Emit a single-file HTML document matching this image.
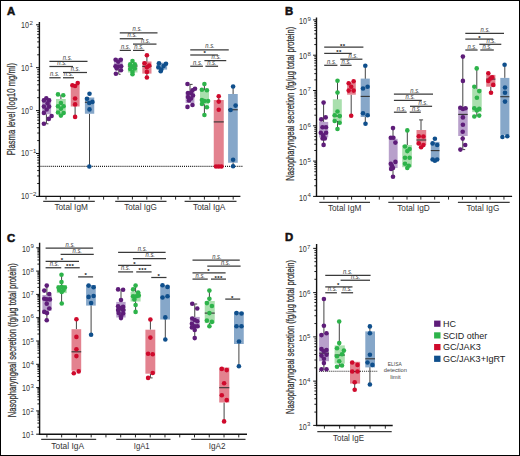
<!DOCTYPE html>
<html><head><meta charset="utf-8"><style>
html,body{margin:0;padding:0;background:#fff;}
svg{display:block;font-family:"Liberation Sans", sans-serif;}
</style></head><body>
<svg width="520" height="456" viewBox="0 0 520 456">
<rect x="0" y="0" width="520" height="456" fill="#fff"/>
<text x="7" y="15.3" font-size="11.3" text-anchor="start" fill="#111" font-weight="bold" stroke="#111" stroke-width="0.55">A</text>
<line x1="39.4" y1="22" x2="39.4" y2="197.0" stroke="#111" stroke-width="1.4"/>
<line x1="36.0" y1="196.4" x2="39.4" y2="196.4" stroke="#111" stroke-width="1.0"/>
<line x1="37.199999999999996" y1="183.4858131860152" x2="39.4" y2="183.4858131860152" stroke="#111" stroke-width="0.95"/>
<line x1="37.199999999999996" y1="175.9314981725265" x2="39.4" y2="175.9314981725265" stroke="#111" stroke-width="0.95"/>
<line x1="37.199999999999996" y1="170.5716263720304" x2="39.4" y2="170.5716263720304" stroke="#111" stroke-width="0.95"/>
<line x1="37.199999999999996" y1="166.4141868139848" x2="39.4" y2="166.4141868139848" stroke="#111" stroke-width="0.95"/>
<line x1="37.199999999999996" y1="163.0173113585417" x2="39.4" y2="163.0173113585417" stroke="#111" stroke-width="0.95"/>
<line x1="37.199999999999996" y1="160.1452940833884" x2="39.4" y2="160.1452940833884" stroke="#111" stroke-width="0.95"/>
<line x1="37.199999999999996" y1="157.65743955804564" x2="39.4" y2="157.65743955804564" stroke="#111" stroke-width="0.95"/>
<line x1="37.199999999999996" y1="155.46299634505297" x2="39.4" y2="155.46299634505297" stroke="#111" stroke-width="0.95"/>
<line x1="36.0" y1="153.5" x2="39.4" y2="153.5" stroke="#111" stroke-width="1.0"/>
<line x1="37.199999999999996" y1="140.5858131860152" x2="39.4" y2="140.5858131860152" stroke="#111" stroke-width="0.95"/>
<line x1="37.199999999999996" y1="133.03149817252648" x2="39.4" y2="133.03149817252648" stroke="#111" stroke-width="0.95"/>
<line x1="37.199999999999996" y1="127.67162637203042" x2="39.4" y2="127.67162637203042" stroke="#111" stroke-width="0.95"/>
<line x1="37.199999999999996" y1="123.51418681398481" x2="39.4" y2="123.51418681398481" stroke="#111" stroke-width="0.95"/>
<line x1="37.199999999999996" y1="120.1173113585417" x2="39.4" y2="120.1173113585417" stroke="#111" stroke-width="0.95"/>
<line x1="37.199999999999996" y1="117.24529408338839" x2="39.4" y2="117.24529408338839" stroke="#111" stroke-width="0.95"/>
<line x1="37.199999999999996" y1="114.75743955804563" x2="39.4" y2="114.75743955804563" stroke="#111" stroke-width="0.95"/>
<line x1="37.199999999999996" y1="112.56299634505298" x2="39.4" y2="112.56299634505298" stroke="#111" stroke-width="0.95"/>
<line x1="36.0" y1="110.60000000000001" x2="39.4" y2="110.60000000000001" stroke="#111" stroke-width="1.0"/>
<line x1="37.199999999999996" y1="97.68581318601521" x2="39.4" y2="97.68581318601521" stroke="#111" stroke-width="0.95"/>
<line x1="37.199999999999996" y1="90.13149817252648" x2="39.4" y2="90.13149817252648" stroke="#111" stroke-width="0.95"/>
<line x1="37.199999999999996" y1="84.77162637203041" x2="39.4" y2="84.77162637203041" stroke="#111" stroke-width="0.95"/>
<line x1="37.199999999999996" y1="80.6141868139848" x2="39.4" y2="80.6141868139848" stroke="#111" stroke-width="0.95"/>
<line x1="37.199999999999996" y1="77.21731135854169" x2="39.4" y2="77.21731135854169" stroke="#111" stroke-width="0.95"/>
<line x1="37.199999999999996" y1="74.34529408338838" x2="39.4" y2="74.34529408338838" stroke="#111" stroke-width="0.95"/>
<line x1="37.199999999999996" y1="71.85743955804563" x2="39.4" y2="71.85743955804563" stroke="#111" stroke-width="0.95"/>
<line x1="37.199999999999996" y1="69.66299634505297" x2="39.4" y2="69.66299634505297" stroke="#111" stroke-width="0.95"/>
<line x1="36.0" y1="67.70000000000002" x2="39.4" y2="67.70000000000002" stroke="#111" stroke-width="1.0"/>
<line x1="37.199999999999996" y1="54.78581318601522" x2="39.4" y2="54.78581318601522" stroke="#111" stroke-width="0.95"/>
<line x1="37.199999999999996" y1="47.23149817252647" x2="39.4" y2="47.23149817252647" stroke="#111" stroke-width="0.95"/>
<line x1="37.199999999999996" y1="41.87162637203042" x2="39.4" y2="41.87162637203042" stroke="#111" stroke-width="0.95"/>
<line x1="37.199999999999996" y1="37.71418681398481" x2="39.4" y2="37.71418681398481" stroke="#111" stroke-width="0.95"/>
<line x1="37.199999999999996" y1="34.3173113585417" x2="39.4" y2="34.3173113585417" stroke="#111" stroke-width="0.95"/>
<line x1="37.199999999999996" y1="31.445294083388376" x2="39.4" y2="31.445294083388376" stroke="#111" stroke-width="0.95"/>
<line x1="37.199999999999996" y1="28.95743955804562" x2="39.4" y2="28.95743955804562" stroke="#111" stroke-width="0.95"/>
<line x1="37.199999999999996" y1="26.762996345052983" x2="39.4" y2="26.762996345052983" stroke="#111" stroke-width="0.95"/>
<line x1="36.0" y1="24.80000000000001" x2="39.4" y2="24.80000000000001" stroke="#111" stroke-width="1.0"/>
<text x="21.1" y="27.7" font-size="9.3" text-anchor="start" fill="#333" font-weight="normal" textLength="8.0" lengthAdjust="spacingAndGlyphs">10</text>
<text x="29.4" y="24.5" font-size="6.1" text-anchor="start" fill="#333" font-weight="normal">2</text>
<text x="21.1" y="70.6" font-size="9.3" text-anchor="start" fill="#333" font-weight="normal" textLength="8.0" lengthAdjust="spacingAndGlyphs">10</text>
<text x="29.4" y="67.4" font-size="6.1" text-anchor="start" fill="#333" font-weight="normal">1</text>
<text x="21.1" y="113.5" font-size="9.3" text-anchor="start" fill="#333" font-weight="normal" textLength="8.0" lengthAdjust="spacingAndGlyphs">10</text>
<text x="29.4" y="110.3" font-size="6.1" text-anchor="start" fill="#333" font-weight="normal">0</text>
<text x="21.1" y="156.4" font-size="9.3" text-anchor="start" fill="#333" font-weight="normal" textLength="8.0" lengthAdjust="spacingAndGlyphs">10</text>
<text x="29.4" y="153.2" font-size="6.1" text-anchor="start" fill="#333" font-weight="normal">−1</text>
<text x="21.1" y="199.3" font-size="9.3" text-anchor="start" fill="#333" font-weight="normal" textLength="8.0" lengthAdjust="spacingAndGlyphs">10</text>
<text x="29.4" y="196.1" font-size="6.1" text-anchor="start" fill="#333" font-weight="normal">−2</text>
<text transform="translate(15.1,155.3) rotate(-90)" x="0" y="0" font-size="10.2" fill="#333" stroke="#333" stroke-width="0.25" textLength="92.4" lengthAdjust="spacingAndGlyphs">Plasma level (log10 mg/ml)</text>
<line x1="40.5" y1="166.4" x2="242.7" y2="166.4" stroke="#1a1a1a" stroke-width="1.1" stroke-dasharray="1 1.05"/>
<line x1="38.699999999999996" y1="196.4" x2="240.4" y2="196.4" stroke="#111" stroke-width="1.4"/>
<line x1="46.0" y1="196.4" x2="46.0" y2="199.6" stroke="#111" stroke-width="0.9"/>
<line x1="60.4" y1="196.4" x2="60.4" y2="199.6" stroke="#111" stroke-width="0.9"/>
<line x1="74.8" y1="196.4" x2="74.8" y2="199.6" stroke="#111" stroke-width="0.9"/>
<line x1="89.2" y1="196.4" x2="89.2" y2="199.6" stroke="#111" stroke-width="0.9"/>
<line x1="103.6" y1="196.4" x2="103.6" y2="199.6" stroke="#111" stroke-width="0.9"/>
<line x1="118.0" y1="196.4" x2="118.0" y2="199.6" stroke="#111" stroke-width="0.9"/>
<line x1="132.4" y1="196.4" x2="132.4" y2="199.6" stroke="#111" stroke-width="0.9"/>
<line x1="146.8" y1="196.4" x2="146.8" y2="199.6" stroke="#111" stroke-width="0.9"/>
<line x1="161.2" y1="196.4" x2="161.2" y2="199.6" stroke="#111" stroke-width="0.9"/>
<line x1="175.6" y1="196.4" x2="175.6" y2="199.6" stroke="#111" stroke-width="0.9"/>
<line x1="190.0" y1="196.4" x2="190.0" y2="199.6" stroke="#111" stroke-width="0.9"/>
<line x1="204.4" y1="196.4" x2="204.4" y2="199.6" stroke="#111" stroke-width="0.9"/>
<line x1="218.8" y1="196.4" x2="218.8" y2="199.6" stroke="#111" stroke-width="0.9"/>
<line x1="233.20000000000002" y1="196.4" x2="233.20000000000002" y2="199.6" stroke="#111" stroke-width="0.9"/>
<line x1="43.2" y1="201.4" x2="94.8" y2="201.4" stroke="#3a3a3a" stroke-width="1.2"/>
<line x1="115.2" y1="201.4" x2="166.5" y2="201.4" stroke="#3a3a3a" stroke-width="1.2"/>
<line x1="184.6" y1="201.4" x2="236.5" y2="201.4" stroke="#3a3a3a" stroke-width="1.2"/>
<text x="54.4" y="210.2" font-size="8.5" text-anchor="start" fill="#333" font-weight="normal" textLength="33.5" lengthAdjust="spacingAndGlyphs">Total IgM</text>
<text x="124.2" y="210.2" font-size="8.5" text-anchor="start" fill="#333" font-weight="normal" textLength="32.7" lengthAdjust="spacingAndGlyphs">Total IgG</text>
<text x="193" y="210.2" font-size="8.5" text-anchor="start" fill="#333" font-weight="normal" textLength="32.4" lengthAdjust="spacingAndGlyphs">Total IgA</text>
<line x1="46.4" y1="114.2" x2="46.4" y2="123.8" stroke="#444" stroke-width="1.0"/>
<rect x="42.2" y="98.5" width="8.90" height="15.70" fill="#b8a0cb"/>
<circle cx="46.3" cy="98.3" r="2.3" fill="#5e1d79"/>
<circle cx="43.9" cy="100.4" r="2.3" fill="#5e1d79"/>
<circle cx="49.1" cy="100.4" r="2.3" fill="#5e1d79"/>
<circle cx="47.5" cy="103.4" r="2.3" fill="#5e1d79"/>
<circle cx="43.9" cy="106.6" r="2.3" fill="#5e1d79"/>
<circle cx="49.1" cy="106.6" r="2.3" fill="#5e1d79"/>
<circle cx="46.7" cy="109.5" r="2.3" fill="#5e1d79"/>
<circle cx="43.9" cy="112.9" r="2.3" fill="#5e1d79"/>
<circle cx="51.6" cy="116" r="2.3" fill="#5e1d79"/>
<circle cx="48.8" cy="118.9" r="2.3" fill="#5e1d79"/>
<circle cx="43.9" cy="123.8" r="2.3" fill="#5e1d79"/>
<line x1="60.9" y1="95" x2="60.9" y2="99" stroke="#444" stroke-width="1.0"/>
<rect x="56" y="99" width="9.75" height="14.75" fill="#a9dfad"/>
<circle cx="58" cy="94.4" r="2.3" fill="#2db34a"/>
<circle cx="63.25" cy="95.25" r="2.3" fill="#2db34a"/>
<circle cx="60.9" cy="103" r="2.3" fill="#2db34a"/>
<circle cx="58" cy="106.25" r="2.3" fill="#2db34a"/>
<circle cx="63.6" cy="106.25" r="2.3" fill="#2db34a"/>
<circle cx="60.9" cy="108.75" r="2.3" fill="#2db34a"/>
<circle cx="58" cy="112.5" r="2.3" fill="#2db34a"/>
<circle cx="63.6" cy="113" r="2.3" fill="#2db34a"/>
<circle cx="60.9" cy="115.6" r="2.3" fill="#2db34a"/>
<line x1="75.1" y1="106.5" x2="75.1" y2="117" stroke="#444" stroke-width="1.0"/>
<rect x="70.75" y="85" width="8.85" height="21.50" fill="#e3828f"/>
<circle cx="72.4" cy="85.25" r="2.3" fill="#cf0a2c"/>
<circle cx="75.1" cy="86" r="2.3" fill="#cf0a2c"/>
<circle cx="77.75" cy="83.1" r="2.3" fill="#cf0a2c"/>
<circle cx="75.1" cy="98.5" r="2.3" fill="#cf0a2c"/>
<circle cx="75.1" cy="104.4" r="2.3" fill="#cf0a2c"/>
<circle cx="75.1" cy="116.9" r="2.3" fill="#cf0a2c"/>
<line x1="89.5" y1="113.75" x2="89.5" y2="166.5" stroke="#444" stroke-width="1.0"/>
<rect x="84.9" y="97.5" width="9.35" height="16.25" fill="#86a7c9"/>
<line x1="84.9" y1="102.25" x2="94.25" y2="102.25" stroke="#333" stroke-width="1.1"/>
<circle cx="89.5" cy="93.75" r="2.3" fill="#0f4f8c"/>
<circle cx="87" cy="98.75" r="2.3" fill="#0f4f8c"/>
<circle cx="89.25" cy="103" r="2.3" fill="#0f4f8c"/>
<circle cx="92.4" cy="101.9" r="2.3" fill="#0f4f8c"/>
<circle cx="89.5" cy="109.4" r="2.3" fill="#0f4f8c"/>
<circle cx="89.3" cy="166.5" r="2.3" fill="#0f4f8c"/>
<line x1="118.8" y1="68.5" x2="118.8" y2="74.3" stroke="#444" stroke-width="1.0"/>
<rect x="114.1" y="58" width="8.50" height="10.50" fill="#b8a0cb"/>
<circle cx="115.6" cy="59.7" r="2.3" fill="#5e1d79"/>
<circle cx="120.8" cy="59.7" r="2.3" fill="#5e1d79"/>
<circle cx="118.2" cy="61.8" r="2.3" fill="#5e1d79"/>
<circle cx="115.5" cy="66.3" r="2.3" fill="#5e1d79"/>
<circle cx="121.2" cy="66.3" r="2.3" fill="#5e1d79"/>
<circle cx="118.2" cy="66.5" r="2.3" fill="#5e1d79"/>
<circle cx="116.7" cy="68.5" r="2.3" fill="#5e1d79"/>
<circle cx="121" cy="70.3" r="2.3" fill="#5e1d79"/>
<circle cx="115.9" cy="73.8" r="2.3" fill="#5e1d79"/>
<rect x="127.9" y="63.8" width="9.60" height="8.70" fill="#a9dfad"/>
<line x1="127.9" y1="66" x2="137.5" y2="66" stroke="#333" stroke-width="1.1"/>
<circle cx="132.5" cy="61" r="2.3" fill="#2db34a"/>
<circle cx="130.2" cy="64.4" r="2.3" fill="#2db34a"/>
<circle cx="134.8" cy="64.4" r="2.3" fill="#2db34a"/>
<circle cx="132.5" cy="66.7" r="2.3" fill="#2db34a"/>
<circle cx="130.2" cy="69" r="2.3" fill="#2db34a"/>
<circle cx="134.8" cy="68.5" r="2.3" fill="#2db34a"/>
<circle cx="132.5" cy="71.9" r="2.3" fill="#2db34a"/>
<circle cx="132.5" cy="74.2" r="2.3" fill="#2db34a"/>
<line x1="146.9" y1="55.2" x2="146.9" y2="77.5" stroke="#444" stroke-width="1.0"/>
<rect x="142.3" y="61.5" width="9.20" height="12.10" fill="#e3828f"/>
<line x1="142.3" y1="66.4" x2="151.5" y2="66.4" stroke="#333" stroke-width="1.1"/>
<circle cx="146.9" cy="55.2" r="2.3" fill="#cf0a2c"/>
<circle cx="144.6" cy="63.3" r="2.3" fill="#cf0a2c"/>
<circle cx="149.2" cy="65.6" r="2.3" fill="#cf0a2c"/>
<circle cx="146.9" cy="67.3" r="2.3" fill="#cf0a2c"/>
<circle cx="146.9" cy="71.9" r="2.3" fill="#cf0a2c"/>
<circle cx="146.9" cy="77.5" r="2.3" fill="#cf0a2c"/>
<rect x="156.7" y="62.7" width="10.40" height="6.90" fill="#86a7c9"/>
<circle cx="159" cy="63.3" r="2.3" fill="#0f4f8c"/>
<circle cx="166" cy="63.8" r="2.3" fill="#0f4f8c"/>
<circle cx="163.6" cy="66.1" r="2.3" fill="#0f4f8c"/>
<circle cx="158.4" cy="67.3" r="2.3" fill="#0f4f8c"/>
<circle cx="161.3" cy="69.6" r="2.3" fill="#0f4f8c"/>
<circle cx="160.7" cy="71.3" r="2.3" fill="#0f4f8c"/>
<line x1="190" y1="84" x2="190" y2="92" stroke="#444" stroke-width="1.0"/>
<rect x="185.6" y="91.9" width="8.80" height="11.10" fill="#b8a0cb"/>
<circle cx="187.5" cy="84" r="2.3" fill="#5e1d79"/>
<circle cx="192.5" cy="90.25" r="2.3" fill="#5e1d79"/>
<circle cx="195" cy="88.75" r="2.3" fill="#5e1d79"/>
<circle cx="188" cy="93" r="2.3" fill="#5e1d79"/>
<circle cx="191" cy="93" r="2.3" fill="#5e1d79"/>
<circle cx="193" cy="95.5" r="2.3" fill="#5e1d79"/>
<circle cx="188" cy="97" r="2.3" fill="#5e1d79"/>
<circle cx="191" cy="98.5" r="2.3" fill="#5e1d79"/>
<circle cx="189" cy="100.5" r="2.3" fill="#5e1d79"/>
<circle cx="187.5" cy="106.9" r="2.3" fill="#5e1d79"/>
<circle cx="192.5" cy="105" r="2.3" fill="#5e1d79"/>
<line x1="204.4" y1="84" x2="204.4" y2="115" stroke="#444" stroke-width="1.0"/>
<rect x="200" y="90" width="9.00" height="14.40" fill="#a9dfad"/>
<circle cx="204.4" cy="84" r="2.3" fill="#2db34a"/>
<circle cx="201.9" cy="89.75" r="2.3" fill="#2db34a"/>
<circle cx="206.9" cy="90.25" r="2.3" fill="#2db34a"/>
<circle cx="201.9" cy="100" r="2.3" fill="#2db34a"/>
<circle cx="204.4" cy="101" r="2.3" fill="#2db34a"/>
<circle cx="208.1" cy="101" r="2.3" fill="#2db34a"/>
<circle cx="202" cy="104" r="2.3" fill="#2db34a"/>
<circle cx="206.9" cy="107.25" r="2.3" fill="#2db34a"/>
<circle cx="204.4" cy="115" r="2.3" fill="#2db34a"/>
<line x1="218.75" y1="96.25" x2="218.75" y2="100" stroke="#444" stroke-width="1.0"/>
<rect x="213.75" y="100" width="10.00" height="66.90" fill="#e3828f"/>
<line x1="213.75" y1="121.9" x2="223.75" y2="121.9" stroke="#333" stroke-width="1.1"/>
<circle cx="218.75" cy="96.25" r="2.3" fill="#cf0a2c"/>
<circle cx="218.75" cy="101.6" r="2.3" fill="#cf0a2c"/>
<circle cx="218.75" cy="109.75" r="2.3" fill="#cf0a2c"/>
<circle cx="216" cy="166.5" r="2.3" fill="#cf0a2c"/>
<circle cx="218.75" cy="166.5" r="2.3" fill="#cf0a2c"/>
<circle cx="221.5" cy="166.5" r="2.3" fill="#cf0a2c"/>
<line x1="233.1" y1="86.5" x2="233.1" y2="166.25" stroke="#444" stroke-width="1.0"/>
<rect x="228.1" y="94" width="9.65" height="68.75" fill="#86a7c9"/>
<line x1="228.1" y1="109.75" x2="237.75" y2="109.75" stroke="#333" stroke-width="1.1"/>
<circle cx="233.1" cy="86.5" r="2.3" fill="#0f4f8c"/>
<circle cx="235.6" cy="105.6" r="2.3" fill="#0f4f8c"/>
<circle cx="230.6" cy="110" r="2.3" fill="#0f4f8c"/>
<circle cx="233.1" cy="159.75" r="2.3" fill="#0f4f8c"/>
<circle cx="233.1" cy="166.25" r="2.3" fill="#0f4f8c"/>
<line x1="49.4" y1="61.25" x2="87.5" y2="61.25" stroke="#3a3a3a" stroke-width="1.25"/>
<text x="67.5" y="59.75" font-size="6.4" text-anchor="middle" fill="#3a3a3a" font-weight="normal" textLength="9.4" lengthAdjust="spacingAndGlyphs" font-style="italic">n.s.</text>
<line x1="49.4" y1="66.5" x2="73" y2="66.5" stroke="#3a3a3a" stroke-width="1.25"/>
<text x="62" y="65.0" font-size="6.4" text-anchor="middle" fill="#3a3a3a" font-weight="normal" textLength="9.4" lengthAdjust="spacingAndGlyphs" font-style="italic">n.s.</text>
<line x1="63" y1="72.5" x2="87" y2="72.5" stroke="#3a3a3a" stroke-width="1.25"/>
<text x="75.4" y="71.0" font-size="6.4" text-anchor="middle" fill="#3a3a3a" font-weight="normal" textLength="9.4" lengthAdjust="spacingAndGlyphs" font-style="italic">n.s.</text>
<line x1="49.4" y1="77.75" x2="60.6" y2="77.75" stroke="#3a3a3a" stroke-width="1.25"/>
<text x="54.75" y="76.25" font-size="6.4" text-anchor="middle" fill="#3a3a3a" font-weight="normal" textLength="9.4" lengthAdjust="spacingAndGlyphs" font-style="italic">n.s.</text>
<line x1="63" y1="77.75" x2="74" y2="77.75" stroke="#3a3a3a" stroke-width="1.25"/>
<text x="68.5" y="76.25" font-size="6.4" text-anchor="middle" fill="#3a3a3a" font-weight="normal" textLength="9.4" lengthAdjust="spacingAndGlyphs" font-style="italic">n.s.</text>
<line x1="119.75" y1="32.9" x2="157.5" y2="32.9" stroke="#3a3a3a" stroke-width="1.25"/>
<text x="137.25" y="31.4" font-size="6.4" text-anchor="middle" fill="#3a3a3a" font-weight="normal" textLength="9.4" lengthAdjust="spacingAndGlyphs" font-style="italic">n.s.</text>
<line x1="119.75" y1="38.75" x2="143" y2="38.75" stroke="#3a3a3a" stroke-width="1.25"/>
<text x="132.25" y="37.25" font-size="6.4" text-anchor="middle" fill="#3a3a3a" font-weight="normal" textLength="9.4" lengthAdjust="spacingAndGlyphs" font-style="italic">n.s.</text>
<line x1="133" y1="44.1" x2="156.5" y2="44.1" stroke="#3a3a3a" stroke-width="1.25"/>
<text x="145.6" y="42.6" font-size="6.4" text-anchor="middle" fill="#3a3a3a" font-weight="normal" textLength="9.4" lengthAdjust="spacingAndGlyphs" font-style="italic">n.s.</text>
<line x1="119.75" y1="50.4" x2="130.9" y2="50.4" stroke="#3a3a3a" stroke-width="1.25"/>
<text x="125.6" y="48.9" font-size="6.4" text-anchor="middle" fill="#3a3a3a" font-weight="normal" textLength="9.4" lengthAdjust="spacingAndGlyphs" font-style="italic">n.s.</text>
<line x1="133" y1="50.4" x2="144.4" y2="50.4" stroke="#3a3a3a" stroke-width="1.25"/>
<text x="139" y="48.9" font-size="6.4" text-anchor="middle" fill="#3a3a3a" font-weight="normal" textLength="9.4" lengthAdjust="spacingAndGlyphs" font-style="italic">n.s.</text>
<line x1="190.25" y1="49.75" x2="228.75" y2="49.75" stroke="#3a3a3a" stroke-width="1.25"/>
<text x="210" y="48.25" font-size="6.4" text-anchor="middle" fill="#3a3a3a" font-weight="normal" textLength="9.4" lengthAdjust="spacingAndGlyphs" font-style="italic">n.s.</text>
<line x1="190.25" y1="55" x2="217.9" y2="55" stroke="#3a3a3a" stroke-width="1.25"/>
<text x="204.75" y="55.4" font-size="6.0" text-anchor="middle" fill="#111" font-weight="bold">*</text>
<line x1="204.4" y1="60.6" x2="226.25" y2="60.6" stroke="#3a3a3a" stroke-width="1.25"/>
<text x="216.25" y="59.1" font-size="6.4" text-anchor="middle" fill="#3a3a3a" font-weight="normal" textLength="9.4" lengthAdjust="spacingAndGlyphs" font-style="italic">n.s.</text>
<line x1="190.25" y1="66.25" x2="202.9" y2="66.25" stroke="#3a3a3a" stroke-width="1.25"/>
<text x="197.75" y="64.75" font-size="6.4" text-anchor="middle" fill="#3a3a3a" font-weight="normal" textLength="9.4" lengthAdjust="spacingAndGlyphs" font-style="italic">n.s.</text>
<line x1="205.4" y1="66.25" x2="218.1" y2="66.25" stroke="#3a3a3a" stroke-width="1.25"/>
<text x="211.9" y="64.75" font-size="6.4" text-anchor="middle" fill="#3a3a3a" font-weight="normal" textLength="9.4" lengthAdjust="spacingAndGlyphs" font-style="italic">n.s.</text>
<text x="285" y="15.3" font-size="11.3" text-anchor="start" fill="#111" font-weight="bold" stroke="#111" stroke-width="0.55">B</text>
<line x1="316.5" y1="17.5" x2="316.5" y2="197.0" stroke="#111" stroke-width="1.4"/>
<line x1="313.1" y1="196.4" x2="316.5" y2="196.4" stroke="#111" stroke-width="1.0"/>
<line x1="314.3" y1="185.77364115306148" x2="316.5" y2="185.77364115306148" stroke="#111" stroke-width="0.95"/>
<line x1="314.3" y1="179.55761970839592" x2="316.5" y2="179.55761970839592" stroke="#111" stroke-width="0.95"/>
<line x1="314.3" y1="175.14728230612292" x2="316.5" y2="175.14728230612292" stroke="#111" stroke-width="0.95"/>
<line x1="314.3" y1="171.72635884693855" x2="316.5" y2="171.72635884693855" stroke="#111" stroke-width="0.95"/>
<line x1="314.3" y1="168.9312608614574" x2="316.5" y2="168.9312608614574" stroke="#111" stroke-width="0.95"/>
<line x1="314.3" y1="166.56803918749674" x2="316.5" y2="166.56803918749674" stroke="#111" stroke-width="0.95"/>
<line x1="314.3" y1="164.5209234591844" x2="316.5" y2="164.5209234591844" stroke="#111" stroke-width="0.95"/>
<line x1="314.3" y1="162.71523941679183" x2="316.5" y2="162.71523941679183" stroke="#111" stroke-width="0.95"/>
<line x1="313.1" y1="161.10000000000002" x2="316.5" y2="161.10000000000002" stroke="#111" stroke-width="1.0"/>
<line x1="314.3" y1="150.47364115306146" x2="316.5" y2="150.47364115306146" stroke="#111" stroke-width="0.95"/>
<line x1="314.3" y1="144.2576197083959" x2="316.5" y2="144.2576197083959" stroke="#111" stroke-width="0.95"/>
<line x1="314.3" y1="139.84728230612293" x2="316.5" y2="139.84728230612293" stroke="#111" stroke-width="0.95"/>
<line x1="314.3" y1="136.42635884693854" x2="316.5" y2="136.42635884693854" stroke="#111" stroke-width="0.95"/>
<line x1="314.3" y1="133.63126086145738" x2="316.5" y2="133.63126086145738" stroke="#111" stroke-width="0.95"/>
<line x1="314.3" y1="131.26803918749675" x2="316.5" y2="131.26803918749675" stroke="#111" stroke-width="0.95"/>
<line x1="314.3" y1="129.2209234591844" x2="316.5" y2="129.2209234591844" stroke="#111" stroke-width="0.95"/>
<line x1="314.3" y1="127.41523941679183" x2="316.5" y2="127.41523941679183" stroke="#111" stroke-width="0.95"/>
<line x1="313.1" y1="125.80000000000001" x2="316.5" y2="125.80000000000001" stroke="#111" stroke-width="1.0"/>
<line x1="314.3" y1="115.17364115306147" x2="316.5" y2="115.17364115306147" stroke="#111" stroke-width="0.95"/>
<line x1="314.3" y1="108.95761970839592" x2="316.5" y2="108.95761970839592" stroke="#111" stroke-width="0.95"/>
<line x1="314.3" y1="104.54728230612294" x2="316.5" y2="104.54728230612294" stroke="#111" stroke-width="0.95"/>
<line x1="314.3" y1="101.12635884693856" x2="316.5" y2="101.12635884693856" stroke="#111" stroke-width="0.95"/>
<line x1="314.3" y1="98.33126086145738" x2="316.5" y2="98.33126086145738" stroke="#111" stroke-width="0.95"/>
<line x1="314.3" y1="95.96803918749674" x2="316.5" y2="95.96803918749674" stroke="#111" stroke-width="0.95"/>
<line x1="314.3" y1="93.9209234591844" x2="316.5" y2="93.9209234591844" stroke="#111" stroke-width="0.95"/>
<line x1="314.3" y1="92.11523941679184" x2="316.5" y2="92.11523941679184" stroke="#111" stroke-width="0.95"/>
<line x1="313.1" y1="90.50000000000001" x2="316.5" y2="90.50000000000001" stroke="#111" stroke-width="1.0"/>
<line x1="314.3" y1="79.87364115306147" x2="316.5" y2="79.87364115306147" stroke="#111" stroke-width="0.95"/>
<line x1="314.3" y1="73.65761970839593" x2="316.5" y2="73.65761970839593" stroke="#111" stroke-width="0.95"/>
<line x1="314.3" y1="69.24728230612294" x2="316.5" y2="69.24728230612294" stroke="#111" stroke-width="0.95"/>
<line x1="314.3" y1="65.82635884693855" x2="316.5" y2="65.82635884693855" stroke="#111" stroke-width="0.95"/>
<line x1="314.3" y1="63.03126086145738" x2="316.5" y2="63.03126086145738" stroke="#111" stroke-width="0.95"/>
<line x1="314.3" y1="60.66803918749676" x2="316.5" y2="60.66803918749676" stroke="#111" stroke-width="0.95"/>
<line x1="314.3" y1="58.62092345918441" x2="316.5" y2="58.62092345918441" stroke="#111" stroke-width="0.95"/>
<line x1="314.3" y1="56.815239416791826" x2="316.5" y2="56.815239416791826" stroke="#111" stroke-width="0.95"/>
<line x1="313.1" y1="55.20000000000002" x2="316.5" y2="55.20000000000002" stroke="#111" stroke-width="1.0"/>
<line x1="314.3" y1="44.57364115306149" x2="316.5" y2="44.57364115306149" stroke="#111" stroke-width="0.95"/>
<line x1="314.3" y1="38.35761970839593" x2="316.5" y2="38.35761970839593" stroke="#111" stroke-width="0.95"/>
<line x1="314.3" y1="33.94728230612293" x2="316.5" y2="33.94728230612293" stroke="#111" stroke-width="0.95"/>
<line x1="314.3" y1="30.526358846938564" x2="316.5" y2="30.526358846938564" stroke="#111" stroke-width="0.95"/>
<line x1="314.3" y1="27.7312608614574" x2="316.5" y2="27.7312608614574" stroke="#111" stroke-width="0.95"/>
<line x1="314.3" y1="25.36803918749675" x2="316.5" y2="25.36803918749675" stroke="#111" stroke-width="0.95"/>
<line x1="314.3" y1="23.3209234591844" x2="316.5" y2="23.3209234591844" stroke="#111" stroke-width="0.95"/>
<line x1="314.3" y1="21.515239416791843" x2="316.5" y2="21.515239416791843" stroke="#111" stroke-width="0.95"/>
<line x1="313.1" y1="19.900000000000006" x2="316.5" y2="19.900000000000006" stroke="#111" stroke-width="1.0"/>
<text x="299.1" y="24.0" font-size="9.3" text-anchor="start" fill="#333" font-weight="normal" textLength="8.0" lengthAdjust="spacingAndGlyphs">10</text>
<text x="307.4" y="20.8" font-size="6.1" text-anchor="start" fill="#333" font-weight="normal">9</text>
<text x="299.1" y="59.3" font-size="9.3" text-anchor="start" fill="#333" font-weight="normal" textLength="8.0" lengthAdjust="spacingAndGlyphs">10</text>
<text x="307.4" y="56.1" font-size="6.1" text-anchor="start" fill="#333" font-weight="normal">8</text>
<text x="299.1" y="94.6" font-size="9.3" text-anchor="start" fill="#333" font-weight="normal" textLength="8.0" lengthAdjust="spacingAndGlyphs">10</text>
<text x="307.4" y="91.4" font-size="6.1" text-anchor="start" fill="#333" font-weight="normal">7</text>
<text x="299.1" y="129.9" font-size="9.3" text-anchor="start" fill="#333" font-weight="normal" textLength="8.0" lengthAdjust="spacingAndGlyphs">10</text>
<text x="307.4" y="126.7" font-size="6.1" text-anchor="start" fill="#333" font-weight="normal">6</text>
<text x="299.1" y="165.2" font-size="9.3" text-anchor="start" fill="#333" font-weight="normal" textLength="8.0" lengthAdjust="spacingAndGlyphs">10</text>
<text x="307.4" y="162.0" font-size="6.1" text-anchor="start" fill="#333" font-weight="normal">5</text>
<text x="299.1" y="200.5" font-size="9.3" text-anchor="start" fill="#333" font-weight="normal" textLength="8.0" lengthAdjust="spacingAndGlyphs">10</text>
<text x="307.4" y="197.3" font-size="6.1" text-anchor="start" fill="#333" font-weight="normal">4</text>
<text transform="translate(293.8,180.8) rotate(-90)" x="0" y="0" font-size="10.2" fill="#333" stroke="#333" stroke-width="0.25" textLength="154.0" lengthAdjust="spacingAndGlyphs">Nasopharyngeal secretion (fg/µg total protein)</text>
<line x1="315.8" y1="196.4" x2="512.1" y2="196.4" stroke="#111" stroke-width="1.4"/>
<line x1="323.9" y1="196.4" x2="323.9" y2="199.6" stroke="#111" stroke-width="0.9"/>
<line x1="337.75" y1="196.4" x2="337.75" y2="199.6" stroke="#111" stroke-width="0.9"/>
<line x1="351.59999999999997" y1="196.4" x2="351.59999999999997" y2="199.6" stroke="#111" stroke-width="0.9"/>
<line x1="365.45" y1="196.4" x2="365.45" y2="199.6" stroke="#111" stroke-width="0.9"/>
<line x1="379.29999999999995" y1="196.4" x2="379.29999999999995" y2="199.6" stroke="#111" stroke-width="0.9"/>
<line x1="393.15" y1="196.4" x2="393.15" y2="199.6" stroke="#111" stroke-width="0.9"/>
<line x1="407.0" y1="196.4" x2="407.0" y2="199.6" stroke="#111" stroke-width="0.9"/>
<line x1="420.84999999999997" y1="196.4" x2="420.84999999999997" y2="199.6" stroke="#111" stroke-width="0.9"/>
<line x1="434.7" y1="196.4" x2="434.7" y2="199.6" stroke="#111" stroke-width="0.9"/>
<line x1="448.54999999999995" y1="196.4" x2="448.54999999999995" y2="199.6" stroke="#111" stroke-width="0.9"/>
<line x1="462.4" y1="196.4" x2="462.4" y2="199.6" stroke="#111" stroke-width="0.9"/>
<line x1="476.25" y1="196.4" x2="476.25" y2="199.6" stroke="#111" stroke-width="0.9"/>
<line x1="490.09999999999997" y1="196.4" x2="490.09999999999997" y2="199.6" stroke="#111" stroke-width="0.9"/>
<line x1="503.94999999999993" y1="196.4" x2="503.94999999999993" y2="199.6" stroke="#111" stroke-width="0.9"/>
<line x1="319.3" y1="202.4" x2="370" y2="202.4" stroke="#3a3a3a" stroke-width="1.2"/>
<line x1="388.3" y1="202.4" x2="439.9" y2="202.4" stroke="#3a3a3a" stroke-width="1.2"/>
<line x1="457.9" y1="202.4" x2="509.7" y2="202.4" stroke="#3a3a3a" stroke-width="1.2"/>
<text x="327.9" y="210.7" font-size="8.5" text-anchor="start" fill="#333" font-weight="normal" textLength="33.5" lengthAdjust="spacingAndGlyphs">Total IgM</text>
<text x="397.2" y="210.7" font-size="8.5" text-anchor="start" fill="#333" font-weight="normal" textLength="32.6" lengthAdjust="spacingAndGlyphs">Total IgD</text>
<text x="466.4" y="210.7" font-size="8.5" text-anchor="start" fill="#333" font-weight="normal" textLength="32.9" lengthAdjust="spacingAndGlyphs">Total IgG</text>
<line x1="323.6" y1="102.6" x2="323.6" y2="144.9" stroke="#444" stroke-width="1.0"/>
<rect x="319.1" y="121.9" width="9.10" height="15.60" fill="#b8a0cb"/>
<circle cx="323.6" cy="102.6" r="2.3" fill="#5e1d79"/>
<circle cx="321.25" cy="119.4" r="2.3" fill="#5e1d79"/>
<circle cx="325.7" cy="117.4" r="2.3" fill="#5e1d79"/>
<circle cx="322.5" cy="127.2" r="2.3" fill="#5e1d79"/>
<circle cx="326" cy="127.2" r="2.3" fill="#5e1d79"/>
<circle cx="320.8" cy="132.7" r="2.3" fill="#5e1d79"/>
<circle cx="326.1" cy="132.7" r="2.3" fill="#5e1d79"/>
<circle cx="323.2" cy="135.4" r="2.3" fill="#5e1d79"/>
<circle cx="322.6" cy="138.4" r="2.3" fill="#5e1d79"/>
<circle cx="324.8" cy="138.4" r="2.3" fill="#5e1d79"/>
<circle cx="323.6" cy="144.9" r="2.3" fill="#5e1d79"/>
<line x1="337.5" y1="80.8" x2="337.5" y2="129" stroke="#444" stroke-width="1.0"/>
<rect x="332.8" y="99.3" width="9.00" height="21.70" fill="#a9dfad"/>
<line x1="332.8" y1="116" x2="341.8" y2="116" stroke="#333" stroke-width="1.1"/>
<circle cx="337.5" cy="80.8" r="2.3" fill="#2db34a"/>
<circle cx="337.5" cy="92.6" r="2.3" fill="#2db34a"/>
<circle cx="337.5" cy="111.5" r="2.3" fill="#2db34a"/>
<circle cx="334.7" cy="115.3" r="2.3" fill="#2db34a"/>
<circle cx="339.7" cy="116.1" r="2.3" fill="#2db34a"/>
<circle cx="334.7" cy="121" r="2.3" fill="#2db34a"/>
<circle cx="339.7" cy="122.7" r="2.3" fill="#2db34a"/>
<circle cx="337.5" cy="129" r="2.3" fill="#2db34a"/>
<line x1="351.2" y1="94.7" x2="351.2" y2="115.8" stroke="#444" stroke-width="1.0"/>
<rect x="347.1" y="82.4" width="8.70" height="12.30" fill="#e3828f"/>
<circle cx="348.7" cy="83.2" r="2.3" fill="#cf0a2c"/>
<circle cx="353.65" cy="81.25" r="2.3" fill="#cf0a2c"/>
<circle cx="351.2" cy="86.8" r="2.3" fill="#cf0a2c"/>
<circle cx="348.7" cy="90.6" r="2.3" fill="#cf0a2c"/>
<circle cx="353.65" cy="90.6" r="2.3" fill="#cf0a2c"/>
<circle cx="351.2" cy="115.8" r="2.3" fill="#cf0a2c"/>
<line x1="365.3" y1="65.8" x2="365.3" y2="123.8" stroke="#444" stroke-width="1.0"/>
<rect x="360.7" y="78.6" width="9.10" height="38.40" fill="#86a7c9"/>
<line x1="360.7" y1="96.4" x2="369.8" y2="96.4" stroke="#333" stroke-width="1.1"/>
<circle cx="365.3" cy="65.8" r="2.3" fill="#0f4f8c"/>
<circle cx="363" cy="88.5" r="2.3" fill="#0f4f8c"/>
<circle cx="367.6" cy="86.8" r="2.3" fill="#0f4f8c"/>
<circle cx="363" cy="113.2" r="2.3" fill="#0f4f8c"/>
<circle cx="367.6" cy="115.3" r="2.3" fill="#0f4f8c"/>
<circle cx="365.5" cy="123.8" r="2.3" fill="#0f4f8c"/>
<line x1="393" y1="128.1" x2="393" y2="176.75" stroke="#444" stroke-width="1.0"/>
<rect x="388.8" y="138.8" width="8.80" height="29.20" fill="#b8a0cb"/>
<circle cx="393" cy="128.1" r="2.3" fill="#5e1d79"/>
<circle cx="390.8" cy="137.7" r="2.3" fill="#5e1d79"/>
<circle cx="393.4" cy="137.7" r="2.3" fill="#5e1d79"/>
<circle cx="395.4" cy="142.6" r="2.3" fill="#5e1d79"/>
<circle cx="390.8" cy="163.8" r="2.3" fill="#5e1d79"/>
<circle cx="395.4" cy="161.9" r="2.3" fill="#5e1d79"/>
<circle cx="391.9" cy="165.7" r="2.3" fill="#5e1d79"/>
<circle cx="393" cy="168" r="2.3" fill="#5e1d79"/>
<circle cx="391.1" cy="169" r="2.3" fill="#5e1d79"/>
<circle cx="393" cy="176.75" r="2.3" fill="#5e1d79"/>
<line x1="407.3" y1="130.4" x2="407.3" y2="145" stroke="#444" stroke-width="1.0"/>
<rect x="402.2" y="145" width="9.70" height="22.20" fill="#a9dfad"/>
<circle cx="407.3" cy="130.4" r="2.3" fill="#2db34a"/>
<circle cx="405" cy="146.5" r="2.3" fill="#2db34a"/>
<circle cx="409.6" cy="149.1" r="2.3" fill="#2db34a"/>
<circle cx="407.3" cy="151.1" r="2.3" fill="#2db34a"/>
<circle cx="405" cy="157.7" r="2.3" fill="#2db34a"/>
<circle cx="409.6" cy="157.7" r="2.3" fill="#2db34a"/>
<circle cx="405" cy="163.8" r="2.3" fill="#2db34a"/>
<circle cx="408.8" cy="165.7" r="2.3" fill="#2db34a"/>
<circle cx="407.3" cy="168" r="2.3" fill="#2db34a"/>
<line x1="421" y1="119.9" x2="421" y2="130" stroke="#444" stroke-width="1.0"/>
<rect x="416.5" y="130" width="9.70" height="15.00" fill="#e3828f"/>
<line x1="416.5" y1="140" x2="426.2" y2="140" stroke="#333" stroke-width="1.1"/>
<circle cx="418.8" cy="136.2" r="2.3" fill="#cf0a2c"/>
<circle cx="423.4" cy="136.5" r="2.3" fill="#cf0a2c"/>
<circle cx="418.8" cy="143.4" r="2.3" fill="#cf0a2c"/>
<circle cx="421.1" cy="147.3" r="2.3" fill="#cf0a2c"/>
<circle cx="423.4" cy="145" r="2.3" fill="#cf0a2c"/>
<line x1="419.1" y1="119.9" x2="423.1" y2="119.9" stroke="#444" stroke-width="1.0"/>
<rect x="430.8" y="141.9" width="8.70" height="17.60" fill="#86a7c9"/>
<line x1="430.8" y1="150.6" x2="439.5" y2="150.6" stroke="#333" stroke-width="1.1"/>
<circle cx="434.9" cy="138.8" r="2.3" fill="#0f4f8c"/>
<circle cx="437.2" cy="145" r="2.3" fill="#0f4f8c"/>
<circle cx="432.6" cy="143.4" r="2.3" fill="#0f4f8c"/>
<circle cx="432.6" cy="159.5" r="2.3" fill="#0f4f8c"/>
<circle cx="437.2" cy="159.5" r="2.3" fill="#0f4f8c"/>
<circle cx="434.9" cy="160.8" r="2.3" fill="#0f4f8c"/>
<line x1="462.8" y1="56.6" x2="462.8" y2="149.6" stroke="#444" stroke-width="1.0"/>
<rect x="458.2" y="107.2" width="9.50" height="28.80" fill="#b8a0cb"/>
<line x1="458.2" y1="114.4" x2="467.7" y2="114.4" stroke="#333" stroke-width="1.1"/>
<circle cx="462.9" cy="56.6" r="2.3" fill="#5e1d79"/>
<circle cx="462.9" cy="80.9" r="2.3" fill="#5e1d79"/>
<circle cx="460.3" cy="107.7" r="2.3" fill="#5e1d79"/>
<circle cx="462.9" cy="109" r="2.3" fill="#5e1d79"/>
<circle cx="465.5" cy="108.2" r="2.3" fill="#5e1d79"/>
<circle cx="462.9" cy="117.4" r="2.3" fill="#5e1d79"/>
<circle cx="462.9" cy="124.7" r="2.3" fill="#5e1d79"/>
<circle cx="462.7" cy="131.7" r="2.3" fill="#5e1d79"/>
<circle cx="462.7" cy="138.6" r="2.3" fill="#5e1d79"/>
<circle cx="465.2" cy="145" r="2.3" fill="#5e1d79"/>
<circle cx="460.4" cy="149.6" r="2.3" fill="#5e1d79"/>
<line x1="476.8" y1="68.4" x2="476.8" y2="116.5" stroke="#444" stroke-width="1.0"/>
<rect x="472.2" y="88.9" width="9.50" height="23.20" fill="#a9dfad"/>
<circle cx="476.7" cy="68.4" r="2.3" fill="#2db34a"/>
<circle cx="474.3" cy="86.7" r="2.3" fill="#2db34a"/>
<circle cx="479.2" cy="91.1" r="2.3" fill="#2db34a"/>
<circle cx="476.9" cy="97.7" r="2.3" fill="#2db34a"/>
<circle cx="474.3" cy="108.2" r="2.3" fill="#2db34a"/>
<circle cx="479.2" cy="108.9" r="2.3" fill="#2db34a"/>
<circle cx="476.9" cy="110.4" r="2.3" fill="#2db34a"/>
<circle cx="474.3" cy="116.5" r="2.3" fill="#2db34a"/>
<circle cx="479.2" cy="115.6" r="2.3" fill="#2db34a"/>
<line x1="490.8" y1="86.7" x2="490.8" y2="92.8" stroke="#444" stroke-width="1.0"/>
<rect x="486.2" y="74.9" width="9.20" height="11.80" fill="#e3828f"/>
<line x1="486.2" y1="79.1" x2="495.4" y2="79.1" stroke="#333" stroke-width="1.1"/>
<circle cx="488.3" cy="73.2" r="2.3" fill="#cf0a2c"/>
<circle cx="492.2" cy="77.4" r="2.3" fill="#cf0a2c"/>
<circle cx="488.3" cy="80.9" r="2.3" fill="#cf0a2c"/>
<circle cx="493.2" cy="84.9" r="2.3" fill="#cf0a2c"/>
<circle cx="491" cy="92.8" r="2.3" fill="#cf0a2c"/>
<circle cx="490.5" cy="78.5" r="2.3" fill="#cf0a2c"/>
<line x1="504.8" y1="64.7" x2="504.8" y2="77.9" stroke="#444" stroke-width="1.0"/>
<rect x="500.3" y="77.9" width="9.10" height="57.00" fill="#86a7c9"/>
<line x1="500.3" y1="96.7" x2="509.4" y2="96.7" stroke="#333" stroke-width="1.1"/>
<circle cx="504.6" cy="64.7" r="2.3" fill="#0f4f8c"/>
<circle cx="505" cy="87.5" r="2.3" fill="#0f4f8c"/>
<circle cx="505" cy="92.8" r="2.3" fill="#0f4f8c"/>
<circle cx="505" cy="101.6" r="2.3" fill="#0f4f8c"/>
<circle cx="502.4" cy="137" r="2.3" fill="#0f4f8c"/>
<circle cx="507.3" cy="136.3" r="2.3" fill="#0f4f8c"/>
<line x1="324.2" y1="47.1" x2="363.4" y2="47.1" stroke="#3a3a3a" stroke-width="1.25"/>
<text x="342.6" y="47.5" font-size="6.0" font-weight="bold" text-anchor="middle" fill="#111" textLength="5.05" lengthAdjust="spacing">**</text>
<line x1="324.2" y1="53.4" x2="351.8" y2="53.4" stroke="#3a3a3a" stroke-width="1.25"/>
<text x="338.7" y="53.8" font-size="6.0" font-weight="bold" text-anchor="middle" fill="#111" textLength="5.05" lengthAdjust="spacing">**</text>
<line x1="340.3" y1="59.2" x2="362.4" y2="59.2" stroke="#3a3a3a" stroke-width="1.25"/>
<text x="353.2" y="57.7" font-size="6.4" text-anchor="middle" fill="#3a3a3a" font-weight="normal" textLength="9.4" lengthAdjust="spacingAndGlyphs" font-style="italic">n.s.</text>
<line x1="324.2" y1="65.3" x2="337.4" y2="65.3" stroke="#3a3a3a" stroke-width="1.25"/>
<text x="331.8" y="63.8" font-size="6.4" text-anchor="middle" fill="#3a3a3a" font-weight="normal" textLength="9.4" lengthAdjust="spacingAndGlyphs" font-style="italic">n.s.</text>
<line x1="340.3" y1="65.3" x2="351.6" y2="65.3" stroke="#3a3a3a" stroke-width="1.25"/>
<text x="346.3" y="63.8" font-size="6.4" text-anchor="middle" fill="#3a3a3a" font-weight="normal" textLength="9.4" lengthAdjust="spacingAndGlyphs" font-style="italic">n.s.</text>
<line x1="393.9" y1="94.2" x2="433" y2="94.2" stroke="#3a3a3a" stroke-width="1.25"/>
<text x="415" y="92.7" font-size="6.4" text-anchor="middle" fill="#3a3a3a" font-weight="normal" textLength="9.4" lengthAdjust="spacingAndGlyphs" font-style="italic">n.s.</text>
<line x1="393.9" y1="100.4" x2="421.8" y2="100.4" stroke="#3a3a3a" stroke-width="1.25"/>
<text x="410.3" y="98.9" font-size="6.4" text-anchor="middle" fill="#3a3a3a" font-weight="normal" textLength="9.4" lengthAdjust="spacingAndGlyphs" font-style="italic">n.s.</text>
<line x1="410" y1="106.3" x2="432.1" y2="106.3" stroke="#3a3a3a" stroke-width="1.25"/>
<text x="423.2" y="104.8" font-size="6.4" text-anchor="middle" fill="#3a3a3a" font-weight="normal" textLength="9.4" lengthAdjust="spacingAndGlyphs" font-style="italic">n.s.</text>
<line x1="393.9" y1="112.2" x2="406.7" y2="112.2" stroke="#3a3a3a" stroke-width="1.25"/>
<text x="401.4" y="110.7" font-size="6.4" text-anchor="middle" fill="#3a3a3a" font-weight="normal" textLength="9.4" lengthAdjust="spacingAndGlyphs" font-style="italic">n.s.</text>
<line x1="409.7" y1="112.2" x2="420.8" y2="112.2" stroke="#3a3a3a" stroke-width="1.25"/>
<text x="416.6" y="110.7" font-size="6.4" text-anchor="middle" fill="#3a3a3a" font-weight="normal" textLength="9.4" lengthAdjust="spacingAndGlyphs" font-style="italic">n.s.</text>
<line x1="465.3" y1="33.4" x2="504" y2="33.4" stroke="#3a3a3a" stroke-width="1.25"/>
<text x="485.3" y="31.9" font-size="6.4" text-anchor="middle" fill="#3a3a3a" font-weight="normal" textLength="9.4" lengthAdjust="spacingAndGlyphs" font-style="italic">n.s.</text>
<line x1="465.3" y1="39.1" x2="493.2" y2="39.1" stroke="#3a3a3a" stroke-width="1.25"/>
<text x="479.3" y="39.5" font-size="6.0" text-anchor="middle" fill="#111" font-weight="bold">*</text>
<line x1="479.3" y1="44.3" x2="501.3" y2="44.3" stroke="#3a3a3a" stroke-width="1.25"/>
<text x="491.2" y="42.8" font-size="6.4" text-anchor="middle" fill="#3a3a3a" font-weight="normal" textLength="9.4" lengthAdjust="spacingAndGlyphs" font-style="italic">n.s.</text>
<line x1="465.3" y1="50" x2="477.6" y2="50" stroke="#3a3a3a" stroke-width="1.25"/>
<text x="472.1" y="48.5" font-size="6.4" text-anchor="middle" fill="#3a3a3a" font-weight="normal" textLength="9.4" lengthAdjust="spacingAndGlyphs" font-style="italic">n.s.</text>
<line x1="480.3" y1="50" x2="493.8" y2="50" stroke="#3a3a3a" stroke-width="1.25"/>
<text x="487.2" y="48.5" font-size="6.4" text-anchor="middle" fill="#3a3a3a" font-weight="normal" textLength="9.4" lengthAdjust="spacingAndGlyphs" font-style="italic">n.s.</text>
<text x="6.9" y="241.8" font-size="11.3" text-anchor="start" fill="#111" font-weight="bold" stroke="#111" stroke-width="0.55">C</text>
<line x1="39.6" y1="242.75" x2="39.6" y2="434.8" stroke="#111" stroke-width="1.4"/>
<line x1="36.2" y1="434.2" x2="39.6" y2="434.2" stroke="#111" stroke-width="1.0"/>
<line x1="37.4" y1="427.1860011010292" x2="39.6" y2="427.1860011010292" stroke="#111" stroke-width="0.95"/>
<line x1="37.4" y1="423.0830747650319" x2="39.6" y2="423.0830747650319" stroke="#111" stroke-width="0.95"/>
<line x1="37.4" y1="420.1720022020585" x2="39.6" y2="420.1720022020585" stroke="#111" stroke-width="0.95"/>
<line x1="37.4" y1="417.91399889897076" x2="39.6" y2="417.91399889897076" stroke="#111" stroke-width="0.95"/>
<line x1="37.4" y1="416.0690758660611" x2="39.6" y2="416.0690758660611" stroke="#111" stroke-width="0.95"/>
<line x1="37.4" y1="414.50921566766783" x2="39.6" y2="414.50921566766783" stroke="#111" stroke-width="0.95"/>
<line x1="37.4" y1="413.1580033030877" x2="39.6" y2="413.1580033030877" stroke="#111" stroke-width="0.95"/>
<line x1="37.4" y1="411.9661495300637" x2="39.6" y2="411.9661495300637" stroke="#111" stroke-width="0.95"/>
<line x1="36.2" y1="410.9" x2="39.6" y2="410.9" stroke="#111" stroke-width="1.0"/>
<line x1="37.4" y1="403.88600110102925" x2="39.6" y2="403.88600110102925" stroke="#111" stroke-width="0.95"/>
<line x1="37.4" y1="399.78307476503187" x2="39.6" y2="399.78307476503187" stroke="#111" stroke-width="0.95"/>
<line x1="37.4" y1="396.87200220205847" x2="39.6" y2="396.87200220205847" stroke="#111" stroke-width="0.95"/>
<line x1="37.4" y1="394.61399889897075" x2="39.6" y2="394.61399889897075" stroke="#111" stroke-width="0.95"/>
<line x1="37.4" y1="392.7690758660611" x2="39.6" y2="392.7690758660611" stroke="#111" stroke-width="0.95"/>
<line x1="37.4" y1="391.2092156676678" x2="39.6" y2="391.2092156676678" stroke="#111" stroke-width="0.95"/>
<line x1="37.4" y1="389.8580033030877" x2="39.6" y2="389.8580033030877" stroke="#111" stroke-width="0.95"/>
<line x1="37.4" y1="388.6661495300637" x2="39.6" y2="388.6661495300637" stroke="#111" stroke-width="0.95"/>
<line x1="36.2" y1="387.59999999999997" x2="39.6" y2="387.59999999999997" stroke="#111" stroke-width="1.0"/>
<line x1="37.4" y1="380.58600110102924" x2="39.6" y2="380.58600110102924" stroke="#111" stroke-width="0.95"/>
<line x1="37.4" y1="376.48307476503186" x2="39.6" y2="376.48307476503186" stroke="#111" stroke-width="0.95"/>
<line x1="37.4" y1="373.57200220205846" x2="39.6" y2="373.57200220205846" stroke="#111" stroke-width="0.95"/>
<line x1="37.4" y1="371.31399889897074" x2="39.6" y2="371.31399889897074" stroke="#111" stroke-width="0.95"/>
<line x1="37.4" y1="369.4690758660611" x2="39.6" y2="369.4690758660611" stroke="#111" stroke-width="0.95"/>
<line x1="37.4" y1="367.9092156676678" x2="39.6" y2="367.9092156676678" stroke="#111" stroke-width="0.95"/>
<line x1="37.4" y1="366.55800330308773" x2="39.6" y2="366.55800330308773" stroke="#111" stroke-width="0.95"/>
<line x1="37.4" y1="365.3661495300637" x2="39.6" y2="365.3661495300637" stroke="#111" stroke-width="0.95"/>
<line x1="36.2" y1="364.29999999999995" x2="39.6" y2="364.29999999999995" stroke="#111" stroke-width="1.0"/>
<line x1="37.4" y1="357.2860011010292" x2="39.6" y2="357.2860011010292" stroke="#111" stroke-width="0.95"/>
<line x1="37.4" y1="353.18307476503185" x2="39.6" y2="353.18307476503185" stroke="#111" stroke-width="0.95"/>
<line x1="37.4" y1="350.27200220205845" x2="39.6" y2="350.27200220205845" stroke="#111" stroke-width="0.95"/>
<line x1="37.4" y1="348.0139988989707" x2="39.6" y2="348.0139988989707" stroke="#111" stroke-width="0.95"/>
<line x1="37.4" y1="346.16907586606106" x2="39.6" y2="346.16907586606106" stroke="#111" stroke-width="0.95"/>
<line x1="37.4" y1="344.6092156676678" x2="39.6" y2="344.6092156676678" stroke="#111" stroke-width="0.95"/>
<line x1="37.4" y1="343.25800330308766" x2="39.6" y2="343.25800330308766" stroke="#111" stroke-width="0.95"/>
<line x1="37.4" y1="342.06614953006374" x2="39.6" y2="342.06614953006374" stroke="#111" stroke-width="0.95"/>
<line x1="36.2" y1="341.0" x2="39.6" y2="341.0" stroke="#111" stroke-width="1.0"/>
<line x1="37.4" y1="333.9860011010292" x2="39.6" y2="333.9860011010292" stroke="#111" stroke-width="0.95"/>
<line x1="37.4" y1="329.88307476503184" x2="39.6" y2="329.88307476503184" stroke="#111" stroke-width="0.95"/>
<line x1="37.4" y1="326.97200220205843" x2="39.6" y2="326.97200220205843" stroke="#111" stroke-width="0.95"/>
<line x1="37.4" y1="324.7139988989708" x2="39.6" y2="324.7139988989708" stroke="#111" stroke-width="0.95"/>
<line x1="37.4" y1="322.86907586606105" x2="39.6" y2="322.86907586606105" stroke="#111" stroke-width="0.95"/>
<line x1="37.4" y1="321.3092156676678" x2="39.6" y2="321.3092156676678" stroke="#111" stroke-width="0.95"/>
<line x1="37.4" y1="319.9580033030877" x2="39.6" y2="319.9580033030877" stroke="#111" stroke-width="0.95"/>
<line x1="37.4" y1="318.76614953006373" x2="39.6" y2="318.76614953006373" stroke="#111" stroke-width="0.95"/>
<line x1="36.2" y1="317.7" x2="39.6" y2="317.7" stroke="#111" stroke-width="1.0"/>
<line x1="37.4" y1="310.6860011010292" x2="39.6" y2="310.6860011010292" stroke="#111" stroke-width="0.95"/>
<line x1="37.4" y1="306.5830747650318" x2="39.6" y2="306.5830747650318" stroke="#111" stroke-width="0.95"/>
<line x1="37.4" y1="303.6720022020585" x2="39.6" y2="303.6720022020585" stroke="#111" stroke-width="0.95"/>
<line x1="37.4" y1="301.41399889897076" x2="39.6" y2="301.41399889897076" stroke="#111" stroke-width="0.95"/>
<line x1="37.4" y1="299.5690758660611" x2="39.6" y2="299.5690758660611" stroke="#111" stroke-width="0.95"/>
<line x1="37.4" y1="298.00921566766783" x2="39.6" y2="298.00921566766783" stroke="#111" stroke-width="0.95"/>
<line x1="37.4" y1="296.6580033030877" x2="39.6" y2="296.6580033030877" stroke="#111" stroke-width="0.95"/>
<line x1="37.4" y1="295.4661495300637" x2="39.6" y2="295.4661495300637" stroke="#111" stroke-width="0.95"/>
<line x1="36.2" y1="294.4" x2="39.6" y2="294.4" stroke="#111" stroke-width="1.0"/>
<line x1="37.4" y1="287.38600110102925" x2="39.6" y2="287.38600110102925" stroke="#111" stroke-width="0.95"/>
<line x1="37.4" y1="283.28307476503187" x2="39.6" y2="283.28307476503187" stroke="#111" stroke-width="0.95"/>
<line x1="37.4" y1="280.37200220205847" x2="39.6" y2="280.37200220205847" stroke="#111" stroke-width="0.95"/>
<line x1="37.4" y1="278.11399889897075" x2="39.6" y2="278.11399889897075" stroke="#111" stroke-width="0.95"/>
<line x1="37.4" y1="276.2690758660611" x2="39.6" y2="276.2690758660611" stroke="#111" stroke-width="0.95"/>
<line x1="37.4" y1="274.70921566766776" x2="39.6" y2="274.70921566766776" stroke="#111" stroke-width="0.95"/>
<line x1="37.4" y1="273.3580033030877" x2="39.6" y2="273.3580033030877" stroke="#111" stroke-width="0.95"/>
<line x1="37.4" y1="272.1661495300637" x2="39.6" y2="272.1661495300637" stroke="#111" stroke-width="0.95"/>
<line x1="36.2" y1="271.1" x2="39.6" y2="271.1" stroke="#111" stroke-width="1.0"/>
<line x1="37.4" y1="264.0860011010292" x2="39.6" y2="264.0860011010292" stroke="#111" stroke-width="0.95"/>
<line x1="37.4" y1="259.98307476503186" x2="39.6" y2="259.98307476503186" stroke="#111" stroke-width="0.95"/>
<line x1="37.4" y1="257.07200220205846" x2="39.6" y2="257.07200220205846" stroke="#111" stroke-width="0.95"/>
<line x1="37.4" y1="254.81399889897074" x2="39.6" y2="254.81399889897074" stroke="#111" stroke-width="0.95"/>
<line x1="37.4" y1="252.96907586606108" x2="39.6" y2="252.96907586606108" stroke="#111" stroke-width="0.95"/>
<line x1="37.4" y1="251.4092156676678" x2="39.6" y2="251.4092156676678" stroke="#111" stroke-width="0.95"/>
<line x1="37.4" y1="250.0580033030877" x2="39.6" y2="250.0580033030877" stroke="#111" stroke-width="0.95"/>
<line x1="37.4" y1="248.8661495300637" x2="39.6" y2="248.8661495300637" stroke="#111" stroke-width="0.95"/>
<line x1="36.2" y1="247.79999999999998" x2="39.6" y2="247.79999999999998" stroke="#111" stroke-width="1.0"/>
<text x="22.1" y="251.6" font-size="9.3" text-anchor="start" fill="#333" font-weight="normal" textLength="8.0" lengthAdjust="spacingAndGlyphs">10</text>
<text x="30.4" y="248.4" font-size="6.1" text-anchor="start" fill="#333" font-weight="normal">9</text>
<text x="22.1" y="274.9" font-size="9.3" text-anchor="start" fill="#333" font-weight="normal" textLength="8.0" lengthAdjust="spacingAndGlyphs">10</text>
<text x="30.4" y="271.7" font-size="6.1" text-anchor="start" fill="#333" font-weight="normal">8</text>
<text x="22.1" y="298.2" font-size="9.3" text-anchor="start" fill="#333" font-weight="normal" textLength="8.0" lengthAdjust="spacingAndGlyphs">10</text>
<text x="30.4" y="295.0" font-size="6.1" text-anchor="start" fill="#333" font-weight="normal">7</text>
<text x="22.1" y="321.5" font-size="9.3" text-anchor="start" fill="#333" font-weight="normal" textLength="8.0" lengthAdjust="spacingAndGlyphs">10</text>
<text x="30.4" y="318.3" font-size="6.1" text-anchor="start" fill="#333" font-weight="normal">6</text>
<text x="22.1" y="344.8" font-size="9.3" text-anchor="start" fill="#333" font-weight="normal" textLength="8.0" lengthAdjust="spacingAndGlyphs">10</text>
<text x="30.4" y="341.6" font-size="6.1" text-anchor="start" fill="#333" font-weight="normal">5</text>
<text x="22.1" y="368.1" font-size="9.3" text-anchor="start" fill="#333" font-weight="normal" textLength="8.0" lengthAdjust="spacingAndGlyphs">10</text>
<text x="30.4" y="364.9" font-size="6.1" text-anchor="start" fill="#333" font-weight="normal">4</text>
<text x="22.1" y="391.4" font-size="9.3" text-anchor="start" fill="#333" font-weight="normal" textLength="8.0" lengthAdjust="spacingAndGlyphs">10</text>
<text x="30.4" y="388.2" font-size="6.1" text-anchor="start" fill="#333" font-weight="normal">3</text>
<text x="22.1" y="414.7" font-size="9.3" text-anchor="start" fill="#333" font-weight="normal" textLength="8.0" lengthAdjust="spacingAndGlyphs">10</text>
<text x="30.4" y="411.5" font-size="6.1" text-anchor="start" fill="#333" font-weight="normal">2</text>
<text x="22.1" y="438.0" font-size="9.3" text-anchor="start" fill="#333" font-weight="normal" textLength="8.0" lengthAdjust="spacingAndGlyphs">10</text>
<text x="30.4" y="434.8" font-size="6.1" text-anchor="start" fill="#333" font-weight="normal">1</text>
<text transform="translate(16.1,417.2) rotate(-90)" x="0" y="0" font-size="10.2" fill="#333" stroke="#333" stroke-width="0.25" textLength="154.0" lengthAdjust="spacingAndGlyphs">Nasopharyngeal secretion (fg/µg total protein)</text>
<line x1="38.9" y1="434.2" x2="247" y2="434.2" stroke="#111" stroke-width="1.4"/>
<line x1="46.9" y1="434.2" x2="46.9" y2="437.4" stroke="#111" stroke-width="0.9"/>
<line x1="61.66" y1="434.2" x2="61.66" y2="437.4" stroke="#111" stroke-width="0.9"/>
<line x1="76.42" y1="434.2" x2="76.42" y2="437.4" stroke="#111" stroke-width="0.9"/>
<line x1="91.18" y1="434.2" x2="91.18" y2="437.4" stroke="#111" stroke-width="0.9"/>
<line x1="105.94" y1="434.2" x2="105.94" y2="437.4" stroke="#111" stroke-width="0.9"/>
<line x1="120.69999999999999" y1="434.2" x2="120.69999999999999" y2="437.4" stroke="#111" stroke-width="0.9"/>
<line x1="135.46" y1="434.2" x2="135.46" y2="437.4" stroke="#111" stroke-width="0.9"/>
<line x1="150.22" y1="434.2" x2="150.22" y2="437.4" stroke="#111" stroke-width="0.9"/>
<line x1="164.98" y1="434.2" x2="164.98" y2="437.4" stroke="#111" stroke-width="0.9"/>
<line x1="179.74" y1="434.2" x2="179.74" y2="437.4" stroke="#111" stroke-width="0.9"/>
<line x1="194.5" y1="434.2" x2="194.5" y2="437.4" stroke="#111" stroke-width="0.9"/>
<line x1="209.26" y1="434.2" x2="209.26" y2="437.4" stroke="#111" stroke-width="0.9"/>
<line x1="224.02" y1="434.2" x2="224.02" y2="437.4" stroke="#111" stroke-width="0.9"/>
<line x1="238.78" y1="434.2" x2="238.78" y2="437.4" stroke="#111" stroke-width="0.9"/>
<line x1="41.2" y1="439.4" x2="96.2" y2="439.4" stroke="#3a3a3a" stroke-width="1.2"/>
<line x1="116.2" y1="439.4" x2="170.5" y2="439.4" stroke="#3a3a3a" stroke-width="1.2"/>
<line x1="191.25" y1="439.4" x2="245.5" y2="439.4" stroke="#3a3a3a" stroke-width="1.2"/>
<text x="51.3" y="449.3" font-size="8.5" text-anchor="start" fill="#333" font-weight="normal" textLength="32.7" lengthAdjust="spacingAndGlyphs">Total IgA</text>
<text x="133.75" y="449.3" font-size="8.5" text-anchor="start" fill="#333" font-weight="normal" textLength="15.8" lengthAdjust="spacingAndGlyphs">IgA1</text>
<text x="208.75" y="449.3" font-size="8.5" text-anchor="start" fill="#333" font-weight="normal" textLength="16.7" lengthAdjust="spacingAndGlyphs">IgA2</text>
<line x1="46.9" y1="285.6" x2="46.9" y2="320.25" stroke="#444" stroke-width="1.0"/>
<rect x="42.4" y="295" width="9.35" height="15.60" fill="#b8a0cb"/>
<circle cx="46.75" cy="285.6" r="2.3" fill="#5e1d79"/>
<circle cx="44.25" cy="290.6" r="2.3" fill="#5e1d79"/>
<circle cx="49.25" cy="294" r="2.3" fill="#5e1d79"/>
<circle cx="44.25" cy="298.75" r="2.3" fill="#5e1d79"/>
<circle cx="46.75" cy="299.4" r="2.3" fill="#5e1d79"/>
<circle cx="49.9" cy="299.4" r="2.3" fill="#5e1d79"/>
<circle cx="46.75" cy="303.75" r="2.3" fill="#5e1d79"/>
<circle cx="49.25" cy="308.5" r="2.3" fill="#5e1d79"/>
<circle cx="44.25" cy="311.9" r="2.3" fill="#5e1d79"/>
<circle cx="47" cy="313.1" r="2.3" fill="#5e1d79"/>
<circle cx="46.75" cy="320.25" r="2.3" fill="#5e1d79"/>
<line x1="61.6" y1="274.75" x2="61.6" y2="303.5" stroke="#444" stroke-width="1.0"/>
<rect x="56.75" y="285" width="10.00" height="8.10" fill="#a9dfad"/>
<circle cx="61.5" cy="274.75" r="2.3" fill="#2db34a"/>
<circle cx="61.5" cy="282" r="2.3" fill="#2db34a"/>
<circle cx="58.6" cy="287.5" r="2.3" fill="#2db34a"/>
<circle cx="61.75" cy="286.9" r="2.3" fill="#2db34a"/>
<circle cx="64.9" cy="287.5" r="2.3" fill="#2db34a"/>
<circle cx="59.25" cy="290" r="2.3" fill="#2db34a"/>
<circle cx="63.6" cy="290" r="2.3" fill="#2db34a"/>
<circle cx="61.75" cy="291.9" r="2.3" fill="#2db34a"/>
<circle cx="61.75" cy="303.5" r="2.3" fill="#2db34a"/>
<line x1="76.4" y1="319.2" x2="76.4" y2="329.2" stroke="#444" stroke-width="1.0"/>
<rect x="71.5" y="329.2" width="9.70" height="41.50" fill="#e3828f"/>
<line x1="71.5" y1="351.8" x2="81.2" y2="351.8" stroke="#333" stroke-width="1.1"/>
<circle cx="76.4" cy="319.2" r="2.3" fill="#cf0a2c"/>
<circle cx="76.4" cy="336.9" r="2.3" fill="#cf0a2c"/>
<circle cx="76.4" cy="349.2" r="2.3" fill="#cf0a2c"/>
<circle cx="76.4" cy="356.1" r="2.3" fill="#cf0a2c"/>
<circle cx="73.8" cy="373.3" r="2.3" fill="#cf0a2c"/>
<circle cx="78.7" cy="371.4" r="2.3" fill="#cf0a2c"/>
<line x1="91.1" y1="305.6" x2="91.1" y2="334.8" stroke="#444" stroke-width="1.0"/>
<rect x="86.1" y="285" width="9.65" height="20.60" fill="#86a7c9"/>
<circle cx="88.6" cy="285.6" r="2.3" fill="#0f4f8c"/>
<circle cx="93.6" cy="287.25" r="2.3" fill="#0f4f8c"/>
<circle cx="88.6" cy="296.9" r="2.3" fill="#0f4f8c"/>
<circle cx="93.6" cy="296" r="2.3" fill="#0f4f8c"/>
<circle cx="91.1" cy="303.1" r="2.3" fill="#0f4f8c"/>
<circle cx="91.1" cy="334.8" r="2.3" fill="#0f4f8c"/>
<line x1="121" y1="289.5" x2="121" y2="301.9" stroke="#444" stroke-width="1.0"/>
<rect x="116.25" y="301.9" width="9.35" height="15.60" fill="#b8a0cb"/>
<line x1="116.25" y1="310" x2="125.6" y2="310" stroke="#333" stroke-width="1.1"/>
<circle cx="118.1" cy="289.4" r="2.3" fill="#5e1d79"/>
<circle cx="123.1" cy="289.75" r="2.3" fill="#5e1d79"/>
<circle cx="121" cy="300" r="2.3" fill="#5e1d79"/>
<circle cx="118.1" cy="306.25" r="2.3" fill="#5e1d79"/>
<circle cx="123.1" cy="306.9" r="2.3" fill="#5e1d79"/>
<circle cx="118.1" cy="310" r="2.3" fill="#5e1d79"/>
<circle cx="123.1" cy="310" r="2.3" fill="#5e1d79"/>
<circle cx="121" cy="308" r="2.3" fill="#5e1d79"/>
<circle cx="118.75" cy="313.1" r="2.3" fill="#5e1d79"/>
<circle cx="123.1" cy="313.5" r="2.3" fill="#5e1d79"/>
<circle cx="121" cy="316.25" r="2.3" fill="#5e1d79"/>
<circle cx="121" cy="318.1" r="2.3" fill="#5e1d79"/>
<line x1="135.6" y1="285.6" x2="135.6" y2="311.9" stroke="#444" stroke-width="1.0"/>
<rect x="130.6" y="291.9" width="10.00" height="9.60" fill="#a9dfad"/>
<circle cx="135.6" cy="285.6" r="2.3" fill="#2db34a"/>
<circle cx="133.1" cy="289.4" r="2.3" fill="#2db34a"/>
<circle cx="138.1" cy="292.5" r="2.3" fill="#2db34a"/>
<circle cx="133.1" cy="296.25" r="2.3" fill="#2db34a"/>
<circle cx="136.25" cy="296.25" r="2.3" fill="#2db34a"/>
<circle cx="138.75" cy="295.6" r="2.3" fill="#2db34a"/>
<circle cx="134.4" cy="299.4" r="2.3" fill="#2db34a"/>
<circle cx="135.6" cy="305" r="2.3" fill="#2db34a"/>
<circle cx="135.6" cy="311.9" r="2.3" fill="#2db34a"/>
<line x1="150.4" y1="319.5" x2="150.4" y2="329.7" stroke="#444" stroke-width="1.0"/>
<line x1="150.4" y1="373.7" x2="150.4" y2="377.9" stroke="#444" stroke-width="1.0"/>
<rect x="145.4" y="329.7" width="9.90" height="44.00" fill="#e3828f"/>
<circle cx="150.4" cy="319.5" r="2.3" fill="#cf0a2c"/>
<circle cx="150.4" cy="337.6" r="2.3" fill="#cf0a2c"/>
<circle cx="148.1" cy="353.8" r="2.3" fill="#cf0a2c"/>
<circle cx="152.7" cy="354.2" r="2.3" fill="#cf0a2c"/>
<circle cx="152.7" cy="373" r="2.3" fill="#cf0a2c"/>
<circle cx="148.1" cy="377.9" r="2.3" fill="#cf0a2c"/>
<line x1="165.3" y1="319.5" x2="165.3" y2="339.5" stroke="#444" stroke-width="1.0"/>
<rect x="160.25" y="285.6" width="9.75" height="33.90" fill="#86a7c9"/>
<circle cx="162.5" cy="285.25" r="2.3" fill="#0f4f8c"/>
<circle cx="167.5" cy="286.9" r="2.3" fill="#0f4f8c"/>
<circle cx="162.5" cy="297.5" r="2.3" fill="#0f4f8c"/>
<circle cx="167.5" cy="296.25" r="2.3" fill="#0f4f8c"/>
<circle cx="165.3" cy="317.4" r="2.3" fill="#0f4f8c"/>
<circle cx="165.3" cy="339.5" r="2.3" fill="#0f4f8c"/>
<line x1="194.75" y1="303.75" x2="194.75" y2="338.1" stroke="#444" stroke-width="1.0"/>
<rect x="190" y="316.9" width="9.75" height="11.20" fill="#b8a0cb"/>
<circle cx="192.25" cy="303.75" r="2.3" fill="#5e1d79"/>
<circle cx="197.25" cy="308.5" r="2.3" fill="#5e1d79"/>
<circle cx="192.25" cy="318.5" r="2.3" fill="#5e1d79"/>
<circle cx="197.25" cy="321.25" r="2.3" fill="#5e1d79"/>
<circle cx="194.75" cy="320" r="2.3" fill="#5e1d79"/>
<circle cx="191.9" cy="323.75" r="2.3" fill="#5e1d79"/>
<circle cx="194.75" cy="326.25" r="2.3" fill="#5e1d79"/>
<circle cx="197.5" cy="326.25" r="2.3" fill="#5e1d79"/>
<circle cx="191.9" cy="327.5" r="2.3" fill="#5e1d79"/>
<circle cx="194.75" cy="330" r="2.3" fill="#5e1d79"/>
<circle cx="194.75" cy="338.1" r="2.3" fill="#5e1d79"/>
<line x1="209.4" y1="290.6" x2="209.4" y2="326.25" stroke="#444" stroke-width="1.0"/>
<rect x="204.75" y="301" width="10.00" height="22.10" fill="#a9dfad"/>
<line x1="204.75" y1="313.1" x2="214.75" y2="313.1" stroke="#333" stroke-width="1.1"/>
<circle cx="209.4" cy="290.6" r="2.3" fill="#2db34a"/>
<circle cx="209.4" cy="298.75" r="2.3" fill="#2db34a"/>
<circle cx="206.9" cy="303.1" r="2.3" fill="#2db34a"/>
<circle cx="211.9" cy="306" r="2.3" fill="#2db34a"/>
<circle cx="209.4" cy="313.1" r="2.3" fill="#2db34a"/>
<circle cx="206.9" cy="320.6" r="2.3" fill="#2db34a"/>
<circle cx="211.9" cy="321.9" r="2.3" fill="#2db34a"/>
<circle cx="209.4" cy="326.25" r="2.3" fill="#2db34a"/>
<line x1="224.1" y1="402.5" x2="224.1" y2="421.4" stroke="#444" stroke-width="1.0"/>
<rect x="219.2" y="367.5" width="10.10" height="35.00" fill="#e3828f"/>
<line x1="219.2" y1="387.7" x2="229.3" y2="387.7" stroke="#333" stroke-width="1.1"/>
<circle cx="221.8" cy="368.9" r="2.3" fill="#cf0a2c"/>
<circle cx="226.7" cy="370.1" r="2.3" fill="#cf0a2c"/>
<circle cx="224.1" cy="383.3" r="2.3" fill="#cf0a2c"/>
<circle cx="221.8" cy="395.2" r="2.3" fill="#cf0a2c"/>
<circle cx="226.7" cy="400.1" r="2.3" fill="#cf0a2c"/>
<circle cx="224.1" cy="421.4" r="2.3" fill="#cf0a2c"/>
<line x1="238.9" y1="344" x2="238.9" y2="366.2" stroke="#444" stroke-width="1.0"/>
<rect x="234" y="311.9" width="9.75" height="32.10" fill="#86a7c9"/>
<circle cx="236.5" cy="313.1" r="2.3" fill="#0f4f8c"/>
<circle cx="241.5" cy="313.5" r="2.3" fill="#0f4f8c"/>
<circle cx="236.5" cy="326.25" r="2.3" fill="#0f4f8c"/>
<circle cx="241.5" cy="326.25" r="2.3" fill="#0f4f8c"/>
<circle cx="239" cy="341.5" r="2.3" fill="#0f4f8c"/>
<circle cx="238.9" cy="366.2" r="2.3" fill="#0f4f8c"/>
<line x1="45.6" y1="248.1" x2="93.1" y2="248.1" stroke="#3a3a3a" stroke-width="1.25"/>
<text x="70.25" y="246.6" font-size="6.4" text-anchor="middle" fill="#3a3a3a" font-weight="normal" textLength="9.4" lengthAdjust="spacingAndGlyphs" font-style="italic">n.s.</text>
<line x1="60.6" y1="254.4" x2="93.75" y2="254.4" stroke="#3a3a3a" stroke-width="1.25"/>
<text x="77.25" y="252.9" font-size="6.4" text-anchor="middle" fill="#3a3a3a" font-weight="normal" textLength="9.4" lengthAdjust="spacingAndGlyphs" font-style="italic">n.s.</text>
<line x1="45.6" y1="261.25" x2="79" y2="261.25" stroke="#3a3a3a" stroke-width="1.25"/>
<text x="61.9" y="261.65" font-size="6.0" text-anchor="middle" fill="#111" font-weight="bold">*</text>
<line x1="45.6" y1="267.75" x2="61.25" y2="267.75" stroke="#3a3a3a" stroke-width="1.25"/>
<text x="54.4" y="266.25" font-size="6.4" text-anchor="middle" fill="#3a3a3a" font-weight="normal" textLength="9.4" lengthAdjust="spacingAndGlyphs" font-style="italic">n.s.</text>
<line x1="64.6" y1="267.75" x2="79.75" y2="267.75" stroke="#3a3a3a" stroke-width="1.25"/>
<text x="70" y="268.15" font-size="6.0" font-weight="bold" text-anchor="middle" fill="#111" textLength="7.80" lengthAdjust="spacing">***</text>
<line x1="78.1" y1="276.9" x2="93.1" y2="276.9" stroke="#3a3a3a" stroke-width="1.25"/>
<text x="85.6" y="277.3" font-size="6.0" text-anchor="middle" fill="#111" font-weight="bold">*</text>
<line x1="118.1" y1="252.25" x2="165.6" y2="252.25" stroke="#3a3a3a" stroke-width="1.25"/>
<text x="142.5" y="250.75" font-size="6.4" text-anchor="middle" fill="#3a3a3a" font-weight="normal" textLength="9.4" lengthAdjust="spacingAndGlyphs" font-style="italic">n.s.</text>
<line x1="132.9" y1="258.5" x2="166" y2="258.5" stroke="#3a3a3a" stroke-width="1.25"/>
<text x="150.25" y="257.0" font-size="6.4" text-anchor="middle" fill="#3a3a3a" font-weight="normal" textLength="9.4" lengthAdjust="spacingAndGlyphs" font-style="italic">n.s.</text>
<line x1="118.1" y1="265.25" x2="151.25" y2="265.25" stroke="#3a3a3a" stroke-width="1.25"/>
<text x="134.4" y="265.65" font-size="6.0" text-anchor="middle" fill="#111" font-weight="bold">*</text>
<line x1="118.1" y1="271.9" x2="133.1" y2="271.9" stroke="#3a3a3a" stroke-width="1.25"/>
<text x="125.6" y="270.4" font-size="6.4" text-anchor="middle" fill="#3a3a3a" font-weight="normal" textLength="9.4" lengthAdjust="spacingAndGlyphs" font-style="italic">n.s.</text>
<line x1="136.25" y1="271.9" x2="151.6" y2="271.9" stroke="#3a3a3a" stroke-width="1.25"/>
<text x="142.5" y="272.3" font-size="6.0" font-weight="bold" text-anchor="middle" fill="#111" textLength="7.80" lengthAdjust="spacing">***</text>
<line x1="151.25" y1="277.5" x2="166.5" y2="277.5" stroke="#3a3a3a" stroke-width="1.25"/>
<text x="158.75" y="277.9" font-size="6.0" text-anchor="middle" fill="#111" font-weight="bold">*</text>
<line x1="192.5" y1="260" x2="239.75" y2="260" stroke="#3a3a3a" stroke-width="1.25"/>
<text x="216.9" y="258.5" font-size="6.4" text-anchor="middle" fill="#3a3a3a" font-weight="normal" textLength="9.4" lengthAdjust="spacingAndGlyphs" font-style="italic">n.s.</text>
<line x1="207.25" y1="266" x2="240.6" y2="266" stroke="#3a3a3a" stroke-width="1.25"/>
<text x="225.6" y="264.5" font-size="6.4" text-anchor="middle" fill="#3a3a3a" font-weight="normal" textLength="9.4" lengthAdjust="spacingAndGlyphs" font-style="italic">n.s.</text>
<line x1="192.5" y1="272.75" x2="225.6" y2="272.75" stroke="#3a3a3a" stroke-width="1.25"/>
<text x="208.5" y="273.15" font-size="6.0" text-anchor="middle" fill="#111" font-weight="bold">*</text>
<line x1="192.5" y1="279.1" x2="207.75" y2="279.1" stroke="#3a3a3a" stroke-width="1.25"/>
<text x="200.25" y="277.6" font-size="6.4" text-anchor="middle" fill="#3a3a3a" font-weight="normal" textLength="9.4" lengthAdjust="spacingAndGlyphs" font-style="italic">n.s.</text>
<line x1="211" y1="279.1" x2="226" y2="279.1" stroke="#3a3a3a" stroke-width="1.25"/>
<text x="218.5" y="279.5" font-size="6.0" font-weight="bold" text-anchor="middle" fill="#111" textLength="7.80" lengthAdjust="spacing">***</text>
<line x1="225.25" y1="299.1" x2="240.25" y2="299.1" stroke="#3a3a3a" stroke-width="1.25"/>
<text x="232.25" y="299.5" font-size="6.0" text-anchor="middle" fill="#111" font-weight="bold">*</text>
<text x="285" y="241.2" font-size="11.3" text-anchor="start" fill="#111" font-weight="bold" stroke="#111" stroke-width="0.55">D</text>
<line x1="316.6" y1="244" x2="316.6" y2="426.0" stroke="#111" stroke-width="1.4"/>
<line x1="313.20000000000005" y1="425.4" x2="316.6" y2="425.4" stroke="#111" stroke-width="1.0"/>
<line x1="314.40000000000003" y1="412.0764123919122" x2="316.6" y2="412.0764123919122" stroke="#111" stroke-width="0.95"/>
<line x1="314.40000000000003" y1="404.2826132661077" x2="316.6" y2="404.2826132661077" stroke="#111" stroke-width="0.95"/>
<line x1="314.40000000000003" y1="398.75282478382434" x2="316.6" y2="398.75282478382434" stroke="#111" stroke-width="0.95"/>
<line x1="314.40000000000003" y1="394.4635876080878" x2="316.6" y2="394.4635876080878" stroke="#111" stroke-width="0.95"/>
<line x1="314.40000000000003" y1="390.9590256580199" x2="316.6" y2="390.9590256580199" stroke="#111" stroke-width="0.95"/>
<line x1="314.40000000000003" y1="387.99596074896897" x2="316.6" y2="387.99596074896897" stroke="#111" stroke-width="0.95"/>
<line x1="314.40000000000003" y1="385.42923717573655" x2="316.6" y2="385.42923717573655" stroke="#111" stroke-width="0.95"/>
<line x1="314.40000000000003" y1="383.16522653221546" x2="316.6" y2="383.16522653221546" stroke="#111" stroke-width="0.95"/>
<line x1="313.20000000000005" y1="381.14" x2="316.6" y2="381.14" stroke="#111" stroke-width="1.0"/>
<line x1="314.40000000000003" y1="367.8164123919122" x2="316.6" y2="367.8164123919122" stroke="#111" stroke-width="0.95"/>
<line x1="314.40000000000003" y1="360.0226132661077" x2="316.6" y2="360.0226132661077" stroke="#111" stroke-width="0.95"/>
<line x1="314.40000000000003" y1="354.49282478382435" x2="316.6" y2="354.49282478382435" stroke="#111" stroke-width="0.95"/>
<line x1="314.40000000000003" y1="350.2035876080878" x2="316.6" y2="350.2035876080878" stroke="#111" stroke-width="0.95"/>
<line x1="314.40000000000003" y1="346.6990256580199" x2="316.6" y2="346.6990256580199" stroke="#111" stroke-width="0.95"/>
<line x1="314.40000000000003" y1="343.735960748969" x2="316.6" y2="343.735960748969" stroke="#111" stroke-width="0.95"/>
<line x1="314.40000000000003" y1="341.16923717573655" x2="316.6" y2="341.16923717573655" stroke="#111" stroke-width="0.95"/>
<line x1="314.40000000000003" y1="338.90522653221547" x2="316.6" y2="338.90522653221547" stroke="#111" stroke-width="0.95"/>
<line x1="313.20000000000005" y1="336.88" x2="316.6" y2="336.88" stroke="#111" stroke-width="1.0"/>
<line x1="314.40000000000003" y1="323.5564123919122" x2="316.6" y2="323.5564123919122" stroke="#111" stroke-width="0.95"/>
<line x1="314.40000000000003" y1="315.76261326610773" x2="316.6" y2="315.76261326610773" stroke="#111" stroke-width="0.95"/>
<line x1="314.40000000000003" y1="310.23282478382436" x2="316.6" y2="310.23282478382436" stroke="#111" stroke-width="0.95"/>
<line x1="314.40000000000003" y1="305.9435876080878" x2="316.6" y2="305.9435876080878" stroke="#111" stroke-width="0.95"/>
<line x1="314.40000000000003" y1="302.4390256580199" x2="316.6" y2="302.4390256580199" stroke="#111" stroke-width="0.95"/>
<line x1="314.40000000000003" y1="299.475960748969" x2="316.6" y2="299.475960748969" stroke="#111" stroke-width="0.95"/>
<line x1="314.40000000000003" y1="296.90923717573656" x2="316.6" y2="296.90923717573656" stroke="#111" stroke-width="0.95"/>
<line x1="314.40000000000003" y1="294.6452265322155" x2="316.6" y2="294.6452265322155" stroke="#111" stroke-width="0.95"/>
<line x1="313.20000000000005" y1="292.62" x2="316.6" y2="292.62" stroke="#111" stroke-width="1.0"/>
<line x1="314.40000000000003" y1="279.2964123919122" x2="316.6" y2="279.2964123919122" stroke="#111" stroke-width="0.95"/>
<line x1="314.40000000000003" y1="271.5026132661077" x2="316.6" y2="271.5026132661077" stroke="#111" stroke-width="0.95"/>
<line x1="314.40000000000003" y1="265.97282478382436" x2="316.6" y2="265.97282478382436" stroke="#111" stroke-width="0.95"/>
<line x1="314.40000000000003" y1="261.6835876080878" x2="316.6" y2="261.6835876080878" stroke="#111" stroke-width="0.95"/>
<line x1="314.40000000000003" y1="258.1790256580199" x2="316.6" y2="258.1790256580199" stroke="#111" stroke-width="0.95"/>
<line x1="314.40000000000003" y1="255.21596074896897" x2="316.6" y2="255.21596074896897" stroke="#111" stroke-width="0.95"/>
<line x1="314.40000000000003" y1="252.64923717573654" x2="316.6" y2="252.64923717573654" stroke="#111" stroke-width="0.95"/>
<line x1="314.40000000000003" y1="250.38522653221546" x2="316.6" y2="250.38522653221546" stroke="#111" stroke-width="0.95"/>
<line x1="313.20000000000005" y1="248.35999999999999" x2="316.6" y2="248.35999999999999" stroke="#111" stroke-width="1.0"/>
<text x="298.8" y="252.46" font-size="9.3" text-anchor="start" fill="#333" font-weight="normal" textLength="8.0" lengthAdjust="spacingAndGlyphs">10</text>
<text x="307.1" y="249.26" font-size="6.1" text-anchor="start" fill="#333" font-weight="normal">7</text>
<text x="298.8" y="296.72" font-size="9.3" text-anchor="start" fill="#333" font-weight="normal" textLength="8.0" lengthAdjust="spacingAndGlyphs">10</text>
<text x="307.1" y="293.52" font-size="6.1" text-anchor="start" fill="#333" font-weight="normal">6</text>
<text x="298.8" y="340.98" font-size="9.3" text-anchor="start" fill="#333" font-weight="normal" textLength="8.0" lengthAdjust="spacingAndGlyphs">10</text>
<text x="307.1" y="337.78" font-size="6.1" text-anchor="start" fill="#333" font-weight="normal">5</text>
<text x="298.8" y="385.24" font-size="9.3" text-anchor="start" fill="#333" font-weight="normal" textLength="8.0" lengthAdjust="spacingAndGlyphs">10</text>
<text x="307.1" y="382.04" font-size="6.1" text-anchor="start" fill="#333" font-weight="normal">4</text>
<text x="298.8" y="429.5" font-size="9.3" text-anchor="start" fill="#333" font-weight="normal" textLength="8.0" lengthAdjust="spacingAndGlyphs">10</text>
<text x="307.1" y="426.3" font-size="6.1" text-anchor="start" fill="#333" font-weight="normal">3</text>
<text transform="translate(294.0,413.9) rotate(-90)" x="0" y="0" font-size="10.2" fill="#333" stroke="#333" stroke-width="0.25" textLength="154.0" lengthAdjust="spacingAndGlyphs">Nasopharyngeal secretion (fg/µg total protein)</text>
<line x1="319" y1="371.3" x2="377.2" y2="371.3" stroke="#1a1a1a" stroke-width="1.1" stroke-dasharray="1 1.05"/>
<line x1="315.90000000000003" y1="425.5" x2="392.7" y2="425.5" stroke="#111" stroke-width="1.4"/>
<line x1="324.4" y1="425.5" x2="324.4" y2="428.7" stroke="#111" stroke-width="0.9"/>
<line x1="339.63" y1="425.5" x2="339.63" y2="428.7" stroke="#111" stroke-width="0.9"/>
<line x1="354.85999999999996" y1="425.5" x2="354.85999999999996" y2="428.7" stroke="#111" stroke-width="0.9"/>
<line x1="370.09" y1="425.5" x2="370.09" y2="428.7" stroke="#111" stroke-width="0.9"/>
<line x1="385.32" y1="425.5" x2="385.32" y2="428.7" stroke="#111" stroke-width="0.9"/>
<line x1="317.3" y1="431.7" x2="391.7" y2="431.7" stroke="#3a3a3a" stroke-width="1.2"/>
<text x="333" y="440.8" font-size="8.5" text-anchor="start" fill="#333" font-weight="normal" textLength="31" lengthAdjust="spacingAndGlyphs">Total IgE</text>
<line x1="323.9" y1="299" x2="323.9" y2="369" stroke="#444" stroke-width="1.0"/>
<rect x="319.1" y="333.8" width="9.90" height="27.40" fill="#b8a0cb"/>
<line x1="319.1" y1="353.2" x2="329" y2="353.2" stroke="#333" stroke-width="1.1"/>
<circle cx="323.9" cy="299" r="2.3" fill="#5e1d79"/>
<circle cx="323.9" cy="325.8" r="2.3" fill="#5e1d79"/>
<circle cx="321.5" cy="335.1" r="2.3" fill="#5e1d79"/>
<circle cx="326.5" cy="333.3" r="2.3" fill="#5e1d79"/>
<circle cx="321.5" cy="349.1" r="2.3" fill="#5e1d79"/>
<circle cx="326.5" cy="350" r="2.3" fill="#5e1d79"/>
<circle cx="323.9" cy="351.3" r="2.3" fill="#5e1d79"/>
<circle cx="321.5" cy="355.6" r="2.3" fill="#5e1d79"/>
<circle cx="326.5" cy="354.7" r="2.3" fill="#5e1d79"/>
<circle cx="323.9" cy="358.8" r="2.3" fill="#5e1d79"/>
<circle cx="323.9" cy="363.1" r="2.3" fill="#5e1d79"/>
<circle cx="321.5" cy="369.2" r="2.3" fill="#5e1d79"/>
<circle cx="326.5" cy="369.2" r="2.3" fill="#5e1d79"/>
<line x1="339.3" y1="321.5" x2="339.3" y2="366.8" stroke="#444" stroke-width="1.0"/>
<rect x="334.6" y="345.4" width="10.20" height="18.20" fill="#a9dfad"/>
<line x1="334.6" y1="355.1" x2="344.8" y2="355.1" stroke="#333" stroke-width="1.1"/>
<circle cx="339.2" cy="321.5" r="2.3" fill="#2db34a"/>
<circle cx="339.2" cy="343.1" r="2.3" fill="#2db34a"/>
<circle cx="337" cy="348.2" r="2.3" fill="#2db34a"/>
<circle cx="343.9" cy="350.6" r="2.3" fill="#2db34a"/>
<circle cx="342" cy="354.3" r="2.3" fill="#2db34a"/>
<circle cx="337" cy="356.2" r="2.3" fill="#2db34a"/>
<circle cx="339.2" cy="361.2" r="2.3" fill="#2db34a"/>
<circle cx="342" cy="365.5" r="2.3" fill="#2db34a"/>
<circle cx="337" cy="366.8" r="2.3" fill="#2db34a"/>
<line x1="354.7" y1="383.6" x2="354.7" y2="389.7" stroke="#444" stroke-width="1.0"/>
<rect x="350" y="361.8" width="10.10" height="21.80" fill="#e3828f"/>
<line x1="350" y1="371.5" x2="360.1" y2="371.5" stroke="#333" stroke-width="1.1"/>
<circle cx="352.2" cy="362.5" r="2.3" fill="#cf0a2c"/>
<circle cx="357.5" cy="364.9" r="2.3" fill="#cf0a2c"/>
<circle cx="352.2" cy="371.5" r="2.3" fill="#cf0a2c"/>
<circle cx="357.5" cy="371.5" r="2.3" fill="#cf0a2c"/>
<circle cx="354.7" cy="382.3" r="2.3" fill="#cf0a2c"/>
<circle cx="354.7" cy="389.7" r="2.3" fill="#cf0a2c"/>
<line x1="369.9" y1="326.4" x2="369.9" y2="384.5" stroke="#444" stroke-width="1.0"/>
<rect x="365.3" y="331.4" width="9.70" height="36.00" fill="#86a7c9"/>
<line x1="365.3" y1="358.8" x2="375" y2="358.8" stroke="#333" stroke-width="1.1"/>
<circle cx="369.9" cy="326.4" r="2.3" fill="#0f4f8c"/>
<circle cx="369.9" cy="333.3" r="2.3" fill="#0f4f8c"/>
<circle cx="369.9" cy="354.7" r="2.3" fill="#0f4f8c"/>
<circle cx="367.5" cy="362.5" r="2.3" fill="#0f4f8c"/>
<circle cx="372.4" cy="364.9" r="2.3" fill="#0f4f8c"/>
<circle cx="369.9" cy="384.5" r="2.3" fill="#0f4f8c"/>
<line x1="325.25" y1="275.25" x2="370.6" y2="275.25" stroke="#3a3a3a" stroke-width="1.25"/>
<text x="347.75" y="273.75" font-size="6.4" text-anchor="middle" fill="#3a3a3a" font-weight="normal" textLength="9.4" lengthAdjust="spacingAndGlyphs" font-style="italic">n.s.</text>
<line x1="340.6" y1="280.25" x2="370" y2="280.25" stroke="#3a3a3a" stroke-width="1.25"/>
<text x="355.6" y="278.75" font-size="6.4" text-anchor="middle" fill="#3a3a3a" font-weight="normal" textLength="9.4" lengthAdjust="spacingAndGlyphs" font-style="italic">n.s.</text>
<line x1="325.25" y1="286.9" x2="352.5" y2="286.9" stroke="#3a3a3a" stroke-width="1.25"/>
<text x="338.1" y="287.3" font-size="6.0" text-anchor="middle" fill="#111" font-weight="bold">*</text>
<line x1="325.25" y1="292.75" x2="336.9" y2="292.75" stroke="#3a3a3a" stroke-width="1.25"/>
<text x="332.5" y="291.25" font-size="6.4" text-anchor="middle" fill="#3a3a3a" font-weight="normal" textLength="9.4" lengthAdjust="spacingAndGlyphs" font-style="italic">n.s.</text>
<line x1="341.25" y1="292.75" x2="353.1" y2="292.75" stroke="#3a3a3a" stroke-width="1.25"/>
<text x="347.25" y="291.25" font-size="6.4" text-anchor="middle" fill="#3a3a3a" font-weight="normal" textLength="9.4" lengthAdjust="spacingAndGlyphs" font-style="italic">n.s.</text>
<line x1="118.8" y1="74.3" x2="120.6" y2="74.3" stroke="#444" stroke-width="1.0"/>
<line x1="46.4" y1="123.8" x2="48.4" y2="123.8" stroke="#444" stroke-width="1.0"/>
<line x1="190" y1="84.4" x2="192.6" y2="84.4" stroke="#444" stroke-width="1.0"/>
<line x1="462.7" y1="149.6" x2="465.2" y2="149.6" stroke="#444" stroke-width="1.0"/>
<line x1="150.4" y1="377.9" x2="152.6" y2="377.9" stroke="#444" stroke-width="1.0"/>
<line x1="194.75" y1="304" x2="197.2" y2="304" stroke="#444" stroke-width="1.0"/>
<text x="394.8" y="365.6" font-size="5.6" text-anchor="middle" fill="#444" font-weight="normal" textLength="13.9" lengthAdjust="spacingAndGlyphs">ELISA</text>
<text x="395.4" y="372.3" font-size="5.6" text-anchor="middle" fill="#444" font-weight="normal" textLength="23.1" lengthAdjust="spacingAndGlyphs">detection</text>
<text x="395.4" y="378.6" font-size="5.6" text-anchor="middle" fill="#444" font-weight="normal" textLength="10.4" lengthAdjust="spacingAndGlyphs">limit</text>
<rect x="434.1" y="320.60" width="6.4" height="6.2" fill="#5e1d79"/>
<text x="442.9" y="326.9" font-size="9" text-anchor="start" fill="#222" font-weight="normal">HC</text>
<rect x="434.1" y="332.30" width="6.4" height="6.2" fill="#2db34a"/>
<text x="442.9" y="338.6" font-size="9" text-anchor="start" fill="#222" font-weight="normal" textLength="44.3" lengthAdjust="spacingAndGlyphs">SCID other</text>
<rect x="434.1" y="344.00" width="6.4" height="6.2" fill="#cf0a2c"/>
<text x="442.9" y="350.3" font-size="9" text-anchor="start" fill="#222" font-weight="normal" textLength="37.9" lengthAdjust="spacingAndGlyphs">GC/JAK3</text>
<rect x="434.1" y="355.70" width="6.4" height="6.2" fill="#0f4f8c"/>
<text x="442.9" y="362.0" font-size="9" text-anchor="start" fill="#222" font-weight="normal" textLength="62.5" lengthAdjust="spacingAndGlyphs">GC/JAK3+IgRT</text>
<rect x="0.5" y="0.5" width="519" height="455" fill="none" stroke="#000" stroke-width="1"/>
</svg>
</body></html>
